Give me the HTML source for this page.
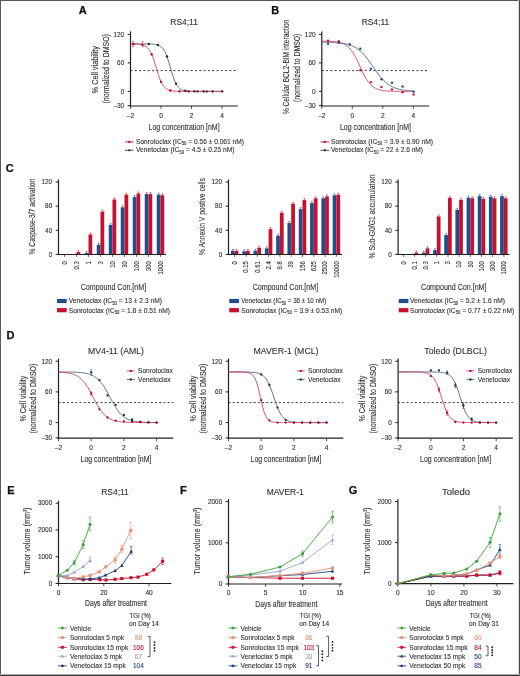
<!DOCTYPE html>
<html><head><meta charset="utf-8"><style>
html,body{margin:0;padding:0;background:#fff;}
#wrap{position:relative;width:520px;height:676px;overflow:hidden;background:#fff;}
svg{display:block;position:absolute;left:0;top:0;font-family:'Liberation Sans', sans-serif;transform:translateZ(0);will-change:transform;}
#c{filter:blur(0.3px);}
</style></head><body><div id="wrap">
<svg id="c" width="520" height="676" viewBox="0 0 520 676">
<rect width="520" height="676" fill="#fff"/>
<text x="78.80" y="14.30" font-size="11" fill="#111" stroke="#111" stroke-width="0.25" font-weight="bold">A</text>
<text x="271.20" y="14.30" font-size="11" fill="#111" stroke="#111" stroke-width="0.25" font-weight="bold">B</text>
<text x="5.80" y="172.30" font-size="11" fill="#111" stroke="#111" stroke-width="0.25" font-weight="bold">C</text>
<text x="6.40" y="339.30" font-size="11" fill="#111" stroke="#111" stroke-width="0.25" font-weight="bold">D</text>
<text x="7.30" y="493.50" font-size="11" fill="#111" stroke="#111" stroke-width="0.25" font-weight="bold">E</text>
<text x="179.90" y="493.50" font-size="11" fill="#111" stroke="#111" stroke-width="0.25" font-weight="bold">F</text>
<text x="348.80" y="493.50" font-size="11" fill="#111" stroke="#111" stroke-width="0.25" font-weight="bold">G</text>
<line x1="130.50" y1="31.40" x2="130.50" y2="106.60" stroke="#231f20" stroke-width="1.2"/>
<line x1="129.90" y1="106.00" x2="237.80" y2="106.00" stroke="#231f20" stroke-width="1.2"/>
<line x1="127.60" y1="34.40" x2="130.50" y2="34.40" stroke="#231f20" stroke-width="1.0"/>
<text x="124.20" y="36.70" font-size="6.4" fill="#333333" stroke="#333333" stroke-width="0.12" text-anchor="end">120</text>
<line x1="127.60" y1="62.90" x2="130.50" y2="62.90" stroke="#231f20" stroke-width="1.0"/>
<text x="124.20" y="65.20" font-size="6.4" fill="#333333" stroke="#333333" stroke-width="0.12" text-anchor="end">60</text>
<line x1="127.60" y1="91.40" x2="130.50" y2="91.40" stroke="#231f20" stroke-width="1.0"/>
<text x="124.20" y="93.70" font-size="6.4" fill="#333333" stroke="#333333" stroke-width="0.12" text-anchor="end">0</text>
<line x1="127.60" y1="105.65" x2="130.50" y2="105.65" stroke="#231f20" stroke-width="1.0"/>
<text x="124.20" y="107.95" font-size="6.4" fill="#333333" stroke="#333333" stroke-width="0.12" text-anchor="end">–30</text>
<line x1="130.50" y1="106.00" x2="130.50" y2="108.80" stroke="#231f20" stroke-width="0.8"/>
<text x="130.50" y="117.80" font-size="6.6" fill="#333333" stroke="#333333" stroke-width="0.12" text-anchor="middle">–2</text>
<line x1="161.00" y1="106.00" x2="161.00" y2="108.80" stroke="#231f20" stroke-width="0.8"/>
<text x="161.00" y="117.80" font-size="6.6" fill="#333333" stroke="#333333" stroke-width="0.12" text-anchor="middle">0</text>
<line x1="191.50" y1="106.00" x2="191.50" y2="108.80" stroke="#231f20" stroke-width="0.8"/>
<text x="191.50" y="117.80" font-size="6.6" fill="#333333" stroke="#333333" stroke-width="0.12" text-anchor="middle">2</text>
<line x1="222.00" y1="106.00" x2="222.00" y2="108.80" stroke="#231f20" stroke-width="0.8"/>
<text x="222.00" y="117.80" font-size="6.6" fill="#333333" stroke="#333333" stroke-width="0.12" text-anchor="middle">4</text>
<text x="184.10" y="130.00" font-size="8.6" fill="#333333" stroke="#333333" stroke-width="0.12" text-anchor="middle" textLength="71" lengthAdjust="spacingAndGlyphs">Log concentration [nM]</text>
<text x="184.10" y="25.40" font-size="8.2" fill="#333333" stroke="#333333" stroke-width="0.12" text-anchor="middle" textLength="27.5" lengthAdjust="spacingAndGlyphs">RS4;11</text>
<text x="98.20" y="69.70" font-size="8.8" fill="#333333" stroke="#333333" stroke-width="0.12" text-anchor="middle" textLength="47.4" lengthAdjust="spacingAndGlyphs" transform="rotate(-90 98.20 69.70)">% Cell viability</text>
<text x="109.30" y="68.80" font-size="8.8" fill="#333333" stroke="#333333" stroke-width="0.12" text-anchor="middle" textLength="69.5" lengthAdjust="spacingAndGlyphs" transform="rotate(-90 109.30 68.80)">(normalized to DMSO)</text>
<line x1="130.50" y1="70.60" x2="238.00" y2="70.60" stroke="#231f20" stroke-width="0.9" stroke-dasharray="2 2.3"/>
<path d="M130.50,43.90 L131.26,43.90 L132.03,43.90 L132.79,43.90 L133.55,43.90 L134.31,43.90 L135.07,43.90 L135.84,43.90 L136.60,43.90 L137.36,43.90 L138.12,43.90 L138.89,43.90 L139.65,43.91 L140.41,43.91 L141.18,43.91 L141.94,43.91 L142.70,43.91 L143.46,43.92 L144.22,43.92 L144.99,43.93 L145.75,43.93 L146.51,43.94 L147.28,43.95 L148.04,43.96 L148.80,43.98 L149.56,44.00 L150.32,44.03 L151.09,44.06 L151.85,44.10 L152.61,44.15 L153.38,44.21 L154.14,44.29 L154.90,44.38 L155.66,44.50 L156.43,44.65 L157.19,44.84 L157.95,45.07 L158.71,45.36 L159.47,45.71 L160.24,46.14 L161.00,46.68 L161.76,47.32 L162.53,48.11 L163.29,49.06 L164.05,50.18 L164.81,51.51 L165.57,53.06 L166.34,54.83 L167.10,56.83 L167.86,59.05 L168.62,61.45 L169.39,64.00 L170.15,66.64 L170.91,69.30 L171.68,71.92 L172.44,74.44 L173.20,76.80 L173.96,78.97 L174.72,80.92 L175.49,82.64 L176.25,84.13 L177.01,85.41 L177.78,86.49 L178.54,87.39 L179.30,88.14 L180.06,88.76 L180.82,89.27 L181.59,89.68 L182.35,90.02 L183.11,90.29 L183.88,90.51 L184.64,90.68 L185.40,90.83 L186.16,90.94 L186.93,91.03 L187.69,91.11 L188.45,91.16 L189.21,91.21 L189.97,91.25 L190.74,91.28 L191.50,91.30 L192.26,91.32 L193.02,91.34 L193.79,91.35 L194.55,91.36 L195.31,91.37 L196.07,91.37 L196.84,91.38 L197.60,91.38 L198.36,91.39 L199.12,91.39 L199.89,91.39 L200.65,91.39 L201.41,91.39 L202.18,91.40 L202.94,91.40 L203.70,91.40 L204.46,91.40 L205.23,91.40 L205.99,91.40 L206.75,91.40 L207.51,91.40 L208.27,91.40 L209.04,91.40 L209.80,91.40 L210.56,91.40 L211.32,91.40 L212.09,91.40 L212.85,91.40 L213.61,91.40 L214.38,91.40 L215.14,91.40 L215.90,91.40 L216.66,91.40 L217.43,91.40 L218.19,91.40 L218.95,91.40 L219.71,91.40 L220.48,91.40 L221.24,91.40 L222.00,91.40" stroke="#4a6276" stroke-width="0.9" fill="none" stroke-linejoin="round"/>
<path d="M130.50,43.93 L131.26,43.94 L132.03,43.95 L132.79,43.97 L133.55,43.98 L134.31,44.00 L135.07,44.03 L135.84,44.06 L136.60,44.09 L137.36,44.14 L138.12,44.20 L138.89,44.26 L139.65,44.35 L140.41,44.46 L141.18,44.59 L141.94,44.75 L142.70,44.95 L143.46,45.19 L144.22,45.49 L144.99,45.86 L145.75,46.30 L146.51,46.84 L147.28,47.49 L148.04,48.26 L148.80,49.19 L149.56,50.28 L150.32,51.56 L151.09,53.04 L151.85,54.72 L152.61,56.61 L153.38,58.70 L154.14,60.97 L154.90,63.37 L155.66,65.87 L156.43,68.41 L157.19,70.93 L157.95,73.38 L158.71,75.71 L159.47,77.87 L160.24,79.85 L161.00,81.61 L161.76,83.17 L162.53,84.53 L163.29,85.70 L164.05,86.69 L164.81,87.52 L165.57,88.22 L166.34,88.80 L167.10,89.28 L167.86,89.67 L168.62,89.99 L169.39,90.26 L170.15,90.47 L170.91,90.65 L171.68,90.79 L172.44,90.91 L173.20,91.00 L173.96,91.08 L174.72,91.14 L175.49,91.19 L176.25,91.23 L177.01,91.26 L177.78,91.29 L178.54,91.31 L179.30,91.33 L180.06,91.34 L180.82,91.35 L181.59,91.36 L182.35,91.37 L183.11,91.38 L183.88,91.38 L184.64,91.38 L185.40,91.39 L186.16,91.39 L186.93,91.39 L187.69,91.39 L188.45,91.39 L189.21,91.40 L189.97,91.40 L190.74,91.40 L191.50,91.40 L192.26,91.40 L193.02,91.40 L193.79,91.40 L194.55,91.40 L195.31,91.40 L196.07,91.40 L196.84,91.40 L197.60,91.40 L198.36,91.40 L199.12,91.40 L199.89,91.40 L200.65,91.40 L201.41,91.40 L202.18,91.40 L202.94,91.40 L203.70,91.40 L204.46,91.40 L205.23,91.40 L205.99,91.40 L206.75,91.40 L207.51,91.40 L208.27,91.40 L209.04,91.40 L209.80,91.40 L210.56,91.40 L211.32,91.40 L212.09,91.40 L212.85,91.40 L213.61,91.40 L214.38,91.40 L215.14,91.40 L215.90,91.40 L216.66,91.40 L217.43,91.40 L218.19,91.40 L218.95,91.40 L219.71,91.40 L220.48,91.40 L221.24,91.40 L222.00,91.40" stroke="#cf3a5e" stroke-width="0.9" fill="none" stroke-linejoin="round"/>
<circle cx="148.80" cy="43.98" r="1.2" fill="#1a2c3c"/>
<circle cx="157.80" cy="45.02" r="1.2" fill="#1a2c3c"/>
<circle cx="167.00" cy="56.56" r="1.2" fill="#1a2c3c"/>
<circle cx="176.00" cy="83.66" r="1.2" fill="#1a2c3c"/>
<circle cx="185.30" cy="90.81" r="1.2" fill="#1a2c3c"/>
<circle cx="194.30" cy="91.36" r="1.2" fill="#1a2c3c"/>
<circle cx="203.60" cy="91.40" r="1.2" fill="#1a2c3c"/>
<circle cx="212.60" cy="91.40" r="1.2" fill="#1a2c3c"/>
<circle cx="222.20" cy="91.40" r="1.2" fill="#1a2c3c"/>
<circle cx="133.40" cy="43.98" r="1.2" fill="#9a0c32"/>
<circle cx="142.40" cy="44.87" r="1.2" fill="#9a0c32"/>
<circle cx="151.70" cy="54.37" r="1.2" fill="#9a0c32"/>
<circle cx="161.10" cy="81.83" r="1.2" fill="#9a0c32"/>
<circle cx="170.30" cy="90.51" r="1.2" fill="#9a0c32"/>
<circle cx="179.50" cy="91.33" r="1.2" fill="#9a0c32"/>
<circle cx="188.60" cy="91.39" r="1.2" fill="#9a0c32"/>
<circle cx="197.60" cy="91.40" r="1.2" fill="#9a0c32"/>
<circle cx="206.80" cy="91.40" r="1.2" fill="#9a0c32"/>
<line x1="133.00" y1="41.40" x2="133.00" y2="46.80" stroke="#cf3a5e" stroke-width="0.7"/>
<line x1="132.00" y1="41.40" x2="134.00" y2="41.40" stroke="#cf3a5e" stroke-width="0.6"/>
<line x1="132.00" y1="46.80" x2="134.00" y2="46.80" stroke="#cf3a5e" stroke-width="0.6"/>
<line x1="142.60" y1="41.40" x2="142.60" y2="46.80" stroke="#cf3a5e" stroke-width="0.7"/>
<line x1="141.60" y1="41.40" x2="143.60" y2="41.40" stroke="#cf3a5e" stroke-width="0.6"/>
<line x1="141.60" y1="46.80" x2="143.60" y2="46.80" stroke="#cf3a5e" stroke-width="0.6"/>
<line x1="125.00" y1="141.90" x2="133.50" y2="141.90" stroke="#cf3a5e" stroke-width="1.1"/>
<circle cx="129.25" cy="141.90" r="1.125" fill="#9a0c32"/>
<line x1="125.00" y1="150.30" x2="133.50" y2="150.30" stroke="#4a6276" stroke-width="1.1"/>
<circle cx="129.25" cy="150.30" r="1.125" fill="#1a2c3c"/>
<text x="136.00" y="143.90" font-size="7.2" fill="#333333" stroke="#333333" stroke-width="0.12" textLength="108" lengthAdjust="spacingAndGlyphs">Sonrotoclax (IC<tspan font-size="4.6" dy="1.4">50</tspan><tspan dy="-1.4"> = 0.56 ± 0.061 nM)</tspan></text>
<text x="136.00" y="152.20" font-size="7.2" fill="#333333" stroke="#333333" stroke-width="0.12" textLength="98.6" lengthAdjust="spacingAndGlyphs">Venetoclax (IC<tspan font-size="4.6" dy="1.4">50</tspan><tspan dy="-1.4"> = 4.5 ± 0.25 nM)</tspan></text>
<line x1="321.80" y1="31.40" x2="321.80" y2="106.60" stroke="#231f20" stroke-width="1.2"/>
<line x1="321.20" y1="106.00" x2="429.10" y2="106.00" stroke="#231f20" stroke-width="1.2"/>
<line x1="318.90" y1="34.40" x2="321.80" y2="34.40" stroke="#231f20" stroke-width="1.0"/>
<text x="315.50" y="36.70" font-size="6.4" fill="#333333" stroke="#333333" stroke-width="0.12" text-anchor="end">120</text>
<line x1="318.90" y1="62.90" x2="321.80" y2="62.90" stroke="#231f20" stroke-width="1.0"/>
<text x="315.50" y="65.20" font-size="6.4" fill="#333333" stroke="#333333" stroke-width="0.12" text-anchor="end">60</text>
<line x1="318.90" y1="91.40" x2="321.80" y2="91.40" stroke="#231f20" stroke-width="1.0"/>
<text x="315.50" y="93.70" font-size="6.4" fill="#333333" stroke="#333333" stroke-width="0.12" text-anchor="end">0</text>
<line x1="318.90" y1="105.65" x2="321.80" y2="105.65" stroke="#231f20" stroke-width="1.0"/>
<text x="315.50" y="107.95" font-size="6.4" fill="#333333" stroke="#333333" stroke-width="0.12" text-anchor="end">–30</text>
<line x1="321.80" y1="106.00" x2="321.80" y2="108.80" stroke="#231f20" stroke-width="0.8"/>
<text x="321.80" y="117.80" font-size="6.6" fill="#333333" stroke="#333333" stroke-width="0.12" text-anchor="middle">–2</text>
<line x1="352.30" y1="106.00" x2="352.30" y2="108.80" stroke="#231f20" stroke-width="0.8"/>
<text x="352.30" y="117.80" font-size="6.6" fill="#333333" stroke="#333333" stroke-width="0.12" text-anchor="middle">0</text>
<line x1="382.80" y1="106.00" x2="382.80" y2="108.80" stroke="#231f20" stroke-width="0.8"/>
<text x="382.80" y="117.80" font-size="6.6" fill="#333333" stroke="#333333" stroke-width="0.12" text-anchor="middle">2</text>
<line x1="413.30" y1="106.00" x2="413.30" y2="108.80" stroke="#231f20" stroke-width="0.8"/>
<text x="413.30" y="117.80" font-size="6.6" fill="#333333" stroke="#333333" stroke-width="0.12" text-anchor="middle">4</text>
<text x="375.40" y="130.00" font-size="8.6" fill="#333333" stroke="#333333" stroke-width="0.12" text-anchor="middle" textLength="71" lengthAdjust="spacingAndGlyphs">Log concentration [nM]</text>
<text x="375.40" y="25.40" font-size="8.2" fill="#333333" stroke="#333333" stroke-width="0.12" text-anchor="middle" textLength="27.5" lengthAdjust="spacingAndGlyphs">RS4;11</text>
<text x="288.60" y="66.90" font-size="8.8" fill="#333333" stroke="#333333" stroke-width="0.12" text-anchor="middle" textLength="94.3" lengthAdjust="spacingAndGlyphs" transform="rotate(-90 288.60 66.90)">% Cellular BCL2-BIM interaction</text>
<text x="300.30" y="67.80" font-size="8.8" fill="#333333" stroke="#333333" stroke-width="0.12" text-anchor="middle" textLength="68.4" lengthAdjust="spacingAndGlyphs" transform="rotate(-90 300.30 67.80)">(normalized to DMSO)</text>
<line x1="321.80" y1="70.60" x2="429.30" y2="70.60" stroke="#231f20" stroke-width="0.9" stroke-dasharray="2 2.3"/>
<path d="M321.80,42.12 L322.56,42.13 L323.32,42.14 L324.09,42.15 L324.85,42.17 L325.61,42.18 L326.38,42.20 L327.14,42.22 L327.90,42.24 L328.66,42.26 L329.43,42.29 L330.19,42.32 L330.95,42.35 L331.71,42.38 L332.48,42.41 L333.24,42.45 L334.00,42.49 L334.76,42.54 L335.53,42.59 L336.29,42.64 L337.05,42.70 L337.81,42.77 L338.57,42.84 L339.34,42.92 L340.10,43.00 L340.86,43.09 L341.62,43.19 L342.39,43.30 L343.15,43.42 L343.91,43.55 L344.68,43.69 L345.44,43.84 L346.20,44.01 L346.96,44.19 L347.73,44.38 L348.49,44.60 L349.25,44.83 L350.01,45.08 L350.78,45.35 L351.54,45.64 L352.30,45.95 L353.06,46.29 L353.82,46.66 L354.59,47.05 L355.35,47.47 L356.11,47.92 L356.88,48.41 L357.64,48.92 L358.40,49.48 L359.16,50.06 L359.93,50.69 L360.69,51.35 L361.45,52.05 L362.21,52.79 L362.98,53.56 L363.74,54.38 L364.50,55.23 L365.26,56.12 L366.03,57.04 L366.79,58.00 L367.55,58.98 L368.31,60.00 L369.07,61.04 L369.84,62.10 L370.60,63.18 L371.36,64.27 L372.12,65.37 L372.89,66.48 L373.65,67.59 L374.41,68.69 L375.18,69.79 L375.94,70.87 L376.70,71.94 L377.46,72.99 L378.23,74.02 L378.99,75.01 L379.75,75.98 L380.51,76.92 L381.28,77.82 L382.04,78.69 L382.80,79.51 L383.56,80.31 L384.32,81.06 L385.09,81.77 L385.85,82.45 L386.61,83.09 L387.38,83.69 L388.14,84.26 L388.90,84.79 L389.66,85.29 L390.43,85.75 L391.19,86.19 L391.95,86.59 L392.71,86.97 L393.48,87.32 L394.24,87.64 L395.00,87.94 L395.76,88.22 L396.53,88.48 L397.29,88.71 L398.05,88.93 L398.81,89.13 L399.57,89.32 L400.34,89.49 L401.10,89.65 L401.86,89.80 L402.62,89.93 L403.39,90.05 L404.15,90.17 L404.91,90.27 L405.68,90.36 L406.44,90.45 L407.20,90.53 L407.96,90.60 L408.73,90.67 L409.49,90.73 L410.25,90.79 L411.01,90.84 L411.78,90.89 L412.54,90.93 L413.30,90.97" stroke="#4a6276" stroke-width="0.9" fill="none" stroke-linejoin="round"/>
<path d="M321.80,41.12 L322.56,41.13 L323.32,41.14 L324.09,41.15 L324.85,41.16 L325.61,41.18 L326.38,41.20 L327.14,41.22 L327.90,41.24 L328.66,41.27 L329.43,41.30 L330.19,41.34 L330.95,41.38 L331.71,41.42 L332.48,41.47 L333.24,41.53 L334.00,41.60 L334.76,41.68 L335.53,41.77 L336.29,41.87 L337.05,41.98 L337.81,42.11 L338.57,42.26 L339.34,42.42 L340.10,42.61 L340.86,42.82 L341.62,43.06 L342.39,43.34 L343.15,43.64 L343.91,43.99 L344.68,44.38 L345.44,44.81 L346.20,45.30 L346.96,45.85 L347.73,46.45 L348.49,47.13 L349.25,47.87 L350.01,48.69 L350.78,49.59 L351.54,50.57 L352.30,51.63 L353.06,52.78 L353.82,54.01 L354.59,55.33 L355.35,56.72 L356.11,58.18 L356.88,59.71 L357.64,61.29 L358.40,62.91 L359.16,64.56 L359.93,66.23 L360.69,67.89 L361.45,69.54 L362.21,71.16 L362.98,72.74 L363.74,74.27 L364.50,75.73 L365.26,77.12 L366.03,78.44 L366.79,79.67 L367.55,80.82 L368.31,81.88 L369.07,82.86 L369.84,83.76 L370.60,84.58 L371.36,85.32 L372.12,86.00 L372.89,86.60 L373.65,87.15 L374.41,87.64 L375.18,88.07 L375.94,88.46 L376.70,88.81 L377.46,89.11 L378.23,89.39 L378.99,89.63 L379.75,89.84 L380.51,90.03 L381.28,90.19 L382.04,90.34 L382.80,90.47 L383.56,90.58 L384.32,90.68 L385.09,90.77 L385.85,90.85 L386.61,90.92 L387.38,90.98 L388.14,91.03 L388.90,91.07 L389.66,91.11 L390.43,91.15 L391.19,91.18 L391.95,91.21 L392.71,91.23 L393.48,91.25 L394.24,91.27 L395.00,91.29 L395.76,91.30 L396.53,91.31 L397.29,91.32 L398.05,91.33 L398.81,91.34 L399.57,91.35 L400.34,91.35 L401.10,91.36 L401.86,91.37 L402.62,91.37 L403.39,91.37 L404.15,91.38 L404.91,91.38 L405.68,91.38 L406.44,91.38 L407.20,91.39 L407.96,91.39 L408.73,91.39 L409.49,91.39 L410.25,91.39 L411.01,91.39 L411.78,91.39 L412.54,91.39 L413.30,91.40" stroke="#cf3a5e" stroke-width="0.9" fill="none" stroke-linejoin="round"/>
<circle cx="328.00" cy="43.70" r="1.2" fill="#22508a"/>
<circle cx="338.80" cy="42.70" r="1.2" fill="#22508a"/>
<circle cx="349.70" cy="44.20" r="1.2" fill="#22508a"/>
<circle cx="360.30" cy="48.80" r="1.2" fill="#22508a"/>
<circle cx="370.90" cy="68.70" r="1.2" fill="#22508a"/>
<circle cx="381.50" cy="79.20" r="1.2" fill="#22508a"/>
<circle cx="392.00" cy="82.70" r="1.2" fill="#22508a"/>
<circle cx="402.60" cy="86.50" r="1.2" fill="#22508a"/>
<circle cx="413.60" cy="91.70" r="1.2" fill="#22508a"/>
<circle cx="328.00" cy="40.80" r="1.2" fill="#c01a40"/>
<circle cx="338.80" cy="41.20" r="1.2" fill="#c01a40"/>
<circle cx="360.30" cy="70.20" r="1.2" fill="#c01a40"/>
<circle cx="370.90" cy="82.10" r="1.2" fill="#c01a40"/>
<circle cx="381.50" cy="86.90" r="1.2" fill="#c01a40"/>
<circle cx="392.00" cy="89.40" r="1.2" fill="#c01a40"/>
<circle cx="402.60" cy="92.30" r="1.2" fill="#c01a40"/>
<circle cx="413.60" cy="94.60" r="1.2" fill="#c01a40"/>
<line x1="320.50" y1="141.90" x2="329.00" y2="141.90" stroke="#cf3a5e" stroke-width="1.1"/>
<circle cx="324.75" cy="141.90" r="1.125" fill="#9a0c32"/>
<line x1="320.50" y1="150.30" x2="329.00" y2="150.30" stroke="#4a6276" stroke-width="1.1"/>
<circle cx="324.75" cy="150.30" r="1.125" fill="#1a2c3c"/>
<text x="331.00" y="143.90" font-size="7.2" fill="#333333" stroke="#333333" stroke-width="0.12" textLength="102" lengthAdjust="spacingAndGlyphs">Sonrotoclax (IC<tspan font-size="4.6" dy="1.4">50</tspan><tspan dy="-1.4"> = 3.9 ± 0.90 nM)</tspan></text>
<text x="331.00" y="152.20" font-size="7.2" fill="#333333" stroke="#333333" stroke-width="0.12" textLength="92" lengthAdjust="spacingAndGlyphs">Venetoclax (IC<tspan font-size="4.6" dy="1.4">50</tspan><tspan dy="-1.4"> = 22 ± 2.6 nM)</tspan></text>
<rect x="76.50" y="251.99" width="3.75" height="2.41" fill="#c8102e"/>
<line x1="78.38" y1="251.99" x2="78.38" y2="250.49" stroke="#c8102e" stroke-width="0.6"/>
<line x1="77.47" y1="250.49" x2="79.28" y2="250.49" stroke="#c8102e" stroke-width="0.6"/>
<rect x="84.75" y="252.89" width="3.75" height="1.51" fill="#1f4e8c"/>
<line x1="86.62" y1="252.89" x2="86.62" y2="251.39" stroke="#1f4e8c" stroke-width="0.6"/>
<line x1="85.72" y1="251.39" x2="87.53" y2="251.39" stroke="#1f4e8c" stroke-width="0.6"/>
<rect x="88.50" y="234.49" width="3.75" height="19.91" fill="#c8102e"/>
<line x1="90.38" y1="234.49" x2="90.38" y2="232.99" stroke="#c8102e" stroke-width="0.6"/>
<line x1="89.47" y1="232.99" x2="91.28" y2="232.99" stroke="#c8102e" stroke-width="0.6"/>
<rect x="96.75" y="244.75" width="3.75" height="9.65" fill="#1f4e8c"/>
<line x1="98.62" y1="244.75" x2="98.62" y2="243.25" stroke="#1f4e8c" stroke-width="0.6"/>
<line x1="97.72" y1="243.25" x2="99.53" y2="243.25" stroke="#1f4e8c" stroke-width="0.6"/>
<rect x="100.50" y="211.57" width="3.75" height="42.83" fill="#c8102e"/>
<line x1="102.38" y1="211.57" x2="102.38" y2="210.07" stroke="#c8102e" stroke-width="0.6"/>
<line x1="101.47" y1="210.07" x2="103.28" y2="210.07" stroke="#c8102e" stroke-width="0.6"/>
<rect x="108.75" y="224.84" width="3.75" height="29.56" fill="#1f4e8c"/>
<line x1="110.62" y1="224.84" x2="110.62" y2="223.34" stroke="#1f4e8c" stroke-width="0.6"/>
<line x1="109.72" y1="223.34" x2="111.53" y2="223.34" stroke="#1f4e8c" stroke-width="0.6"/>
<rect x="112.50" y="199.50" width="3.75" height="54.90" fill="#c8102e"/>
<line x1="114.38" y1="199.50" x2="114.38" y2="198.00" stroke="#c8102e" stroke-width="0.6"/>
<line x1="113.47" y1="198.00" x2="115.28" y2="198.00" stroke="#c8102e" stroke-width="0.6"/>
<rect x="120.75" y="207.34" width="3.75" height="47.06" fill="#1f4e8c"/>
<line x1="122.62" y1="207.34" x2="122.62" y2="205.84" stroke="#1f4e8c" stroke-width="0.6"/>
<line x1="121.72" y1="205.84" x2="123.53" y2="205.84" stroke="#1f4e8c" stroke-width="0.6"/>
<rect x="124.50" y="194.67" width="3.75" height="59.73" fill="#c8102e"/>
<line x1="126.38" y1="194.67" x2="126.38" y2="193.17" stroke="#c8102e" stroke-width="0.6"/>
<line x1="125.47" y1="193.17" x2="127.28" y2="193.17" stroke="#c8102e" stroke-width="0.6"/>
<rect x="132.75" y="197.09" width="3.75" height="57.31" fill="#1f4e8c"/>
<line x1="134.62" y1="197.09" x2="134.62" y2="195.59" stroke="#1f4e8c" stroke-width="0.6"/>
<line x1="133.72" y1="195.59" x2="135.53" y2="195.59" stroke="#1f4e8c" stroke-width="0.6"/>
<rect x="136.50" y="193.47" width="3.75" height="60.93" fill="#c8102e"/>
<line x1="138.38" y1="193.47" x2="138.38" y2="191.97" stroke="#c8102e" stroke-width="0.6"/>
<line x1="137.47" y1="191.97" x2="139.28" y2="191.97" stroke="#c8102e" stroke-width="0.6"/>
<rect x="144.75" y="194.07" width="3.75" height="60.33" fill="#1f4e8c"/>
<line x1="146.62" y1="194.07" x2="146.62" y2="192.57" stroke="#1f4e8c" stroke-width="0.6"/>
<line x1="145.72" y1="192.57" x2="147.53" y2="192.57" stroke="#1f4e8c" stroke-width="0.6"/>
<rect x="148.50" y="194.07" width="3.75" height="60.33" fill="#c8102e"/>
<line x1="150.38" y1="194.07" x2="150.38" y2="192.57" stroke="#c8102e" stroke-width="0.6"/>
<line x1="149.47" y1="192.57" x2="151.28" y2="192.57" stroke="#c8102e" stroke-width="0.6"/>
<rect x="156.75" y="194.67" width="3.75" height="59.73" fill="#1f4e8c"/>
<line x1="158.62" y1="194.67" x2="158.62" y2="193.17" stroke="#1f4e8c" stroke-width="0.6"/>
<line x1="157.72" y1="193.17" x2="159.53" y2="193.17" stroke="#1f4e8c" stroke-width="0.6"/>
<rect x="160.50" y="195.28" width="3.75" height="59.12" fill="#c8102e"/>
<line x1="162.38" y1="195.28" x2="162.38" y2="193.78" stroke="#c8102e" stroke-width="0.6"/>
<line x1="161.47" y1="193.78" x2="163.28" y2="193.78" stroke="#c8102e" stroke-width="0.6"/>
<line x1="58.50" y1="179.40" x2="58.50" y2="255.10" stroke="#231f20" stroke-width="1.2"/>
<line x1="57.90" y1="254.50" x2="166.00" y2="254.50" stroke="#231f20" stroke-width="1.2"/>
<line x1="55.60" y1="182.00" x2="58.50" y2="182.00" stroke="#231f20" stroke-width="1.0"/>
<text x="52.20" y="184.30" font-size="6.4" fill="#333333" stroke="#333333" stroke-width="0.12" text-anchor="end">120</text>
<line x1="55.60" y1="206.14" x2="58.50" y2="206.14" stroke="#231f20" stroke-width="1.0"/>
<text x="52.20" y="208.44" font-size="6.4" fill="#333333" stroke="#333333" stroke-width="0.12" text-anchor="end">80</text>
<line x1="55.60" y1="230.27" x2="58.50" y2="230.27" stroke="#231f20" stroke-width="1.0"/>
<text x="52.20" y="232.57" font-size="6.4" fill="#333333" stroke="#333333" stroke-width="0.12" text-anchor="end">40</text>
<line x1="55.60" y1="254.40" x2="58.50" y2="254.40" stroke="#231f20" stroke-width="1.0"/>
<text x="52.20" y="256.70" font-size="6.4" fill="#333333" stroke="#333333" stroke-width="0.12" text-anchor="end">0</text>
<line x1="64.50" y1="254.40" x2="64.50" y2="256.80" stroke="#231f20" stroke-width="0.7"/>
<text x="66.80" y="261.20" font-size="7.0" fill="#333333" stroke="#333333" stroke-width="0.12" text-anchor="end" textLength="3.33" lengthAdjust="spacingAndGlyphs" transform="rotate(-90 66.80 261.20)">0</text>
<line x1="76.50" y1="254.40" x2="76.50" y2="256.80" stroke="#231f20" stroke-width="0.7"/>
<text x="78.80" y="261.20" font-size="7.0" fill="#333333" stroke="#333333" stroke-width="0.12" text-anchor="end" textLength="8.32" lengthAdjust="spacingAndGlyphs" transform="rotate(-90 78.80 261.20)">0.3</text>
<line x1="88.50" y1="254.40" x2="88.50" y2="256.80" stroke="#231f20" stroke-width="0.7"/>
<text x="90.80" y="261.20" font-size="7.0" fill="#333333" stroke="#333333" stroke-width="0.12" text-anchor="end" textLength="3.33" lengthAdjust="spacingAndGlyphs" transform="rotate(-90 90.80 261.20)">1</text>
<line x1="100.50" y1="254.40" x2="100.50" y2="256.80" stroke="#231f20" stroke-width="0.7"/>
<text x="102.80" y="261.20" font-size="7.0" fill="#333333" stroke="#333333" stroke-width="0.12" text-anchor="end" textLength="3.33" lengthAdjust="spacingAndGlyphs" transform="rotate(-90 102.80 261.20)">3</text>
<line x1="112.50" y1="254.40" x2="112.50" y2="256.80" stroke="#231f20" stroke-width="0.7"/>
<text x="114.80" y="261.20" font-size="7.0" fill="#333333" stroke="#333333" stroke-width="0.12" text-anchor="end" textLength="6.66" lengthAdjust="spacingAndGlyphs" transform="rotate(-90 114.80 261.20)">10</text>
<line x1="124.50" y1="254.40" x2="124.50" y2="256.80" stroke="#231f20" stroke-width="0.7"/>
<text x="126.80" y="261.20" font-size="7.0" fill="#333333" stroke="#333333" stroke-width="0.12" text-anchor="end" textLength="6.66" lengthAdjust="spacingAndGlyphs" transform="rotate(-90 126.80 261.20)">30</text>
<line x1="136.50" y1="254.40" x2="136.50" y2="256.80" stroke="#231f20" stroke-width="0.7"/>
<text x="138.80" y="261.20" font-size="7.0" fill="#333333" stroke="#333333" stroke-width="0.12" text-anchor="end" textLength="9.98" lengthAdjust="spacingAndGlyphs" transform="rotate(-90 138.80 261.20)">100</text>
<line x1="148.50" y1="254.40" x2="148.50" y2="256.80" stroke="#231f20" stroke-width="0.7"/>
<text x="150.80" y="261.20" font-size="7.0" fill="#333333" stroke="#333333" stroke-width="0.12" text-anchor="end" textLength="9.98" lengthAdjust="spacingAndGlyphs" transform="rotate(-90 150.80 261.20)">300</text>
<line x1="160.50" y1="254.40" x2="160.50" y2="256.80" stroke="#231f20" stroke-width="0.7"/>
<text x="162.80" y="261.20" font-size="7.0" fill="#333333" stroke="#333333" stroke-width="0.12" text-anchor="end" textLength="13.31" lengthAdjust="spacingAndGlyphs" transform="rotate(-90 162.80 261.20)">1000</text>
<text x="34.80" y="216.50" font-size="8.8" fill="#333333" stroke="#333333" stroke-width="0.12" text-anchor="middle" textLength="76" lengthAdjust="spacingAndGlyphs" transform="rotate(-90 34.80 216.50)">% Caspase-3/7 activation</text>
<text x="113.40" y="289.80" font-size="8.8" fill="#333333" stroke="#333333" stroke-width="0.12" text-anchor="middle" textLength="65.5" lengthAdjust="spacingAndGlyphs">Compound Con.[nM]</text>
<rect x="57.00" y="298.9" width="9.7" height="4.2" fill="#1f4e8c"/>
<rect x="57.00" y="308.1" width="9.7" height="4.2" fill="#c8102e"/>
<text x="68.75" y="303.30" font-size="7.2" fill="#333333" stroke="#333333" stroke-width="0.12" textLength="93.25" lengthAdjust="spacingAndGlyphs">Venetoclax (IC<tspan font-size="4.6" dy="1.4">50</tspan><tspan dy="-1.4"> = 13 ± 2.3 nM)</tspan></text>
<text x="68.75" y="312.50" font-size="7.2" fill="#333333" stroke="#333333" stroke-width="0.12" textLength="101.25" lengthAdjust="spacingAndGlyphs">Sonrotoclax (IC<tspan font-size="4.6" dy="1.4">50</tspan><tspan dy="-1.4"> = 1.8 ± 0.51 nM)</tspan></text>
<rect x="230.95" y="250.78" width="3.75" height="3.62" fill="#1f4e8c"/>
<line x1="232.82" y1="250.78" x2="232.82" y2="249.28" stroke="#1f4e8c" stroke-width="0.6"/>
<line x1="231.92" y1="249.28" x2="233.72" y2="249.28" stroke="#1f4e8c" stroke-width="0.6"/>
<rect x="234.70" y="250.78" width="3.75" height="3.62" fill="#c8102e"/>
<line x1="236.57" y1="250.78" x2="236.57" y2="249.28" stroke="#c8102e" stroke-width="0.6"/>
<line x1="235.67" y1="249.28" x2="237.47" y2="249.28" stroke="#c8102e" stroke-width="0.6"/>
<rect x="242.25" y="251.38" width="3.75" height="3.02" fill="#1f4e8c"/>
<line x1="244.12" y1="251.38" x2="244.12" y2="249.88" stroke="#1f4e8c" stroke-width="0.6"/>
<line x1="243.22" y1="249.88" x2="245.03" y2="249.88" stroke="#1f4e8c" stroke-width="0.6"/>
<rect x="246.00" y="250.78" width="3.75" height="3.62" fill="#c8102e"/>
<line x1="247.88" y1="250.78" x2="247.88" y2="249.28" stroke="#c8102e" stroke-width="0.6"/>
<line x1="246.97" y1="249.28" x2="248.78" y2="249.28" stroke="#c8102e" stroke-width="0.6"/>
<rect x="253.55" y="250.78" width="3.75" height="3.62" fill="#1f4e8c"/>
<line x1="255.43" y1="250.78" x2="255.43" y2="249.28" stroke="#1f4e8c" stroke-width="0.6"/>
<line x1="254.53" y1="249.28" x2="256.32" y2="249.28" stroke="#1f4e8c" stroke-width="0.6"/>
<rect x="257.30" y="247.76" width="3.75" height="6.64" fill="#c8102e"/>
<line x1="259.18" y1="247.76" x2="259.18" y2="246.26" stroke="#c8102e" stroke-width="0.6"/>
<line x1="258.28" y1="246.26" x2="260.07" y2="246.26" stroke="#c8102e" stroke-width="0.6"/>
<rect x="264.85" y="248.37" width="3.75" height="6.03" fill="#1f4e8c"/>
<line x1="266.73" y1="248.37" x2="266.73" y2="246.87" stroke="#1f4e8c" stroke-width="0.6"/>
<line x1="265.83" y1="246.87" x2="267.62" y2="246.87" stroke="#1f4e8c" stroke-width="0.6"/>
<rect x="268.60" y="229.06" width="3.75" height="25.34" fill="#c8102e"/>
<line x1="270.48" y1="229.06" x2="270.48" y2="227.56" stroke="#c8102e" stroke-width="0.6"/>
<line x1="269.58" y1="227.56" x2="271.38" y2="227.56" stroke="#c8102e" stroke-width="0.6"/>
<rect x="276.15" y="235.70" width="3.75" height="18.70" fill="#1f4e8c"/>
<line x1="278.02" y1="235.70" x2="278.02" y2="234.20" stroke="#1f4e8c" stroke-width="0.6"/>
<line x1="277.12" y1="234.20" x2="278.92" y2="234.20" stroke="#1f4e8c" stroke-width="0.6"/>
<rect x="279.90" y="212.77" width="3.75" height="41.63" fill="#c8102e"/>
<line x1="281.77" y1="212.77" x2="281.77" y2="211.27" stroke="#c8102e" stroke-width="0.6"/>
<line x1="280.88" y1="211.27" x2="282.67" y2="211.27" stroke="#c8102e" stroke-width="0.6"/>
<rect x="287.45" y="223.03" width="3.75" height="31.37" fill="#1f4e8c"/>
<line x1="289.32" y1="223.03" x2="289.32" y2="221.53" stroke="#1f4e8c" stroke-width="0.6"/>
<line x1="288.43" y1="221.53" x2="290.22" y2="221.53" stroke="#1f4e8c" stroke-width="0.6"/>
<rect x="291.20" y="203.72" width="3.75" height="50.68" fill="#c8102e"/>
<line x1="293.07" y1="203.72" x2="293.07" y2="202.22" stroke="#c8102e" stroke-width="0.6"/>
<line x1="292.18" y1="202.22" x2="293.97" y2="202.22" stroke="#c8102e" stroke-width="0.6"/>
<rect x="298.75" y="209.15" width="3.75" height="45.25" fill="#1f4e8c"/>
<line x1="300.62" y1="209.15" x2="300.62" y2="207.65" stroke="#1f4e8c" stroke-width="0.6"/>
<line x1="299.73" y1="207.65" x2="301.52" y2="207.65" stroke="#1f4e8c" stroke-width="0.6"/>
<rect x="302.50" y="200.10" width="3.75" height="54.30" fill="#c8102e"/>
<line x1="304.38" y1="200.10" x2="304.38" y2="198.60" stroke="#c8102e" stroke-width="0.6"/>
<line x1="303.48" y1="198.60" x2="305.27" y2="198.60" stroke="#c8102e" stroke-width="0.6"/>
<rect x="310.05" y="203.12" width="3.75" height="51.28" fill="#1f4e8c"/>
<line x1="311.93" y1="203.12" x2="311.93" y2="201.62" stroke="#1f4e8c" stroke-width="0.6"/>
<line x1="311.03" y1="201.62" x2="312.82" y2="201.62" stroke="#1f4e8c" stroke-width="0.6"/>
<rect x="313.80" y="198.29" width="3.75" height="56.11" fill="#c8102e"/>
<line x1="315.68" y1="198.29" x2="315.68" y2="196.79" stroke="#c8102e" stroke-width="0.6"/>
<line x1="314.78" y1="196.79" x2="316.57" y2="196.79" stroke="#c8102e" stroke-width="0.6"/>
<rect x="321.35" y="198.29" width="3.75" height="56.11" fill="#1f4e8c"/>
<line x1="323.23" y1="198.29" x2="323.23" y2="196.79" stroke="#1f4e8c" stroke-width="0.6"/>
<line x1="322.33" y1="196.79" x2="324.12" y2="196.79" stroke="#1f4e8c" stroke-width="0.6"/>
<rect x="325.10" y="196.48" width="3.75" height="57.92" fill="#c8102e"/>
<line x1="326.98" y1="196.48" x2="326.98" y2="194.98" stroke="#c8102e" stroke-width="0.6"/>
<line x1="326.08" y1="194.98" x2="327.88" y2="194.98" stroke="#c8102e" stroke-width="0.6"/>
<rect x="332.65" y="195.28" width="3.75" height="59.12" fill="#1f4e8c"/>
<line x1="334.52" y1="195.28" x2="334.52" y2="193.78" stroke="#1f4e8c" stroke-width="0.6"/>
<line x1="333.62" y1="193.78" x2="335.42" y2="193.78" stroke="#1f4e8c" stroke-width="0.6"/>
<rect x="336.40" y="194.67" width="3.75" height="59.73" fill="#c8102e"/>
<line x1="338.27" y1="194.67" x2="338.27" y2="193.17" stroke="#c8102e" stroke-width="0.6"/>
<line x1="337.38" y1="193.17" x2="339.17" y2="193.17" stroke="#c8102e" stroke-width="0.6"/>
<line x1="228.50" y1="179.40" x2="228.50" y2="255.10" stroke="#231f20" stroke-width="1.2"/>
<line x1="227.90" y1="254.50" x2="342.00" y2="254.50" stroke="#231f20" stroke-width="1.2"/>
<line x1="225.60" y1="182.00" x2="228.50" y2="182.00" stroke="#231f20" stroke-width="1.0"/>
<text x="222.20" y="184.30" font-size="6.4" fill="#333333" stroke="#333333" stroke-width="0.12" text-anchor="end">120</text>
<line x1="225.60" y1="206.14" x2="228.50" y2="206.14" stroke="#231f20" stroke-width="1.0"/>
<text x="222.20" y="208.44" font-size="6.4" fill="#333333" stroke="#333333" stroke-width="0.12" text-anchor="end">80</text>
<line x1="225.60" y1="230.27" x2="228.50" y2="230.27" stroke="#231f20" stroke-width="1.0"/>
<text x="222.20" y="232.57" font-size="6.4" fill="#333333" stroke="#333333" stroke-width="0.12" text-anchor="end">40</text>
<line x1="225.60" y1="254.40" x2="228.50" y2="254.40" stroke="#231f20" stroke-width="1.0"/>
<text x="222.20" y="256.70" font-size="6.4" fill="#333333" stroke="#333333" stroke-width="0.12" text-anchor="end">0</text>
<line x1="234.70" y1="254.40" x2="234.70" y2="256.80" stroke="#231f20" stroke-width="0.7"/>
<text x="237.00" y="261.20" font-size="7.0" fill="#333333" stroke="#333333" stroke-width="0.12" text-anchor="end" textLength="3.33" lengthAdjust="spacingAndGlyphs" transform="rotate(-90 237.00 261.20)">0</text>
<line x1="246.00" y1="254.40" x2="246.00" y2="256.80" stroke="#231f20" stroke-width="0.7"/>
<text x="248.30" y="261.20" font-size="7.0" fill="#333333" stroke="#333333" stroke-width="0.12" text-anchor="end" textLength="11.65" lengthAdjust="spacingAndGlyphs" transform="rotate(-90 248.30 261.20)">0.15</text>
<line x1="257.30" y1="254.40" x2="257.30" y2="256.80" stroke="#231f20" stroke-width="0.7"/>
<text x="259.60" y="261.20" font-size="7.0" fill="#333333" stroke="#333333" stroke-width="0.12" text-anchor="end" textLength="11.65" lengthAdjust="spacingAndGlyphs" transform="rotate(-90 259.60 261.20)">0.61</text>
<line x1="268.60" y1="254.40" x2="268.60" y2="256.80" stroke="#231f20" stroke-width="0.7"/>
<text x="270.90" y="261.20" font-size="7.0" fill="#333333" stroke="#333333" stroke-width="0.12" text-anchor="end" textLength="8.32" lengthAdjust="spacingAndGlyphs" transform="rotate(-90 270.90 261.20)">2.4</text>
<line x1="279.90" y1="254.40" x2="279.90" y2="256.80" stroke="#231f20" stroke-width="0.7"/>
<text x="282.20" y="261.20" font-size="7.0" fill="#333333" stroke="#333333" stroke-width="0.12" text-anchor="end" textLength="8.32" lengthAdjust="spacingAndGlyphs" transform="rotate(-90 282.20 261.20)">9.8</text>
<line x1="291.20" y1="254.40" x2="291.20" y2="256.80" stroke="#231f20" stroke-width="0.7"/>
<text x="293.50" y="261.20" font-size="7.0" fill="#333333" stroke="#333333" stroke-width="0.12" text-anchor="end" textLength="6.66" lengthAdjust="spacingAndGlyphs" transform="rotate(-90 293.50 261.20)">39</text>
<line x1="302.50" y1="254.40" x2="302.50" y2="256.80" stroke="#231f20" stroke-width="0.7"/>
<text x="304.80" y="261.20" font-size="7.0" fill="#333333" stroke="#333333" stroke-width="0.12" text-anchor="end" textLength="9.98" lengthAdjust="spacingAndGlyphs" transform="rotate(-90 304.80 261.20)">156</text>
<line x1="313.80" y1="254.40" x2="313.80" y2="256.80" stroke="#231f20" stroke-width="0.7"/>
<text x="316.10" y="261.20" font-size="7.0" fill="#333333" stroke="#333333" stroke-width="0.12" text-anchor="end" textLength="9.98" lengthAdjust="spacingAndGlyphs" transform="rotate(-90 316.10 261.20)">625</text>
<line x1="325.10" y1="254.40" x2="325.10" y2="256.80" stroke="#231f20" stroke-width="0.7"/>
<text x="327.40" y="261.20" font-size="7.0" fill="#333333" stroke="#333333" stroke-width="0.12" text-anchor="end" textLength="13.31" lengthAdjust="spacingAndGlyphs" transform="rotate(-90 327.40 261.20)">2500</text>
<line x1="336.40" y1="254.40" x2="336.40" y2="256.80" stroke="#231f20" stroke-width="0.7"/>
<text x="338.70" y="261.20" font-size="7.0" fill="#333333" stroke="#333333" stroke-width="0.12" text-anchor="end" textLength="16.64" lengthAdjust="spacingAndGlyphs" transform="rotate(-90 338.70 261.20)">10000</text>
<text x="204.50" y="216.50" font-size="8.8" fill="#333333" stroke="#333333" stroke-width="0.12" text-anchor="middle" textLength="77" lengthAdjust="spacingAndGlyphs" transform="rotate(-90 204.50 216.50)">% Annexin V postive cells</text>
<text x="285.40" y="289.80" font-size="8.8" fill="#333333" stroke="#333333" stroke-width="0.12" text-anchor="middle" textLength="65.5" lengthAdjust="spacingAndGlyphs">Compound Con.[nM]</text>
<rect x="229.25" y="298.9" width="9.7" height="4.2" fill="#1f4e8c"/>
<rect x="229.25" y="308.1" width="9.7" height="4.2" fill="#c8102e"/>
<text x="241.25" y="303.30" font-size="7.2" fill="#333333" stroke="#333333" stroke-width="0.12" textLength="85" lengthAdjust="spacingAndGlyphs">Venetoclax (IC<tspan font-size="4.6" dy="1.4">50</tspan><tspan dy="-1.4"> = 36 ± 10 nM)</tspan></text>
<text x="241.25" y="312.50" font-size="7.2" fill="#333333" stroke="#333333" stroke-width="0.12" textLength="101" lengthAdjust="spacingAndGlyphs">Sonrotoclax (IC<tspan font-size="4.6" dy="1.4">50</tspan><tspan dy="-1.4"> = 3.9 ± 0.53 nM)</tspan></text>
<rect x="414.47" y="252.59" width="3.75" height="1.81" fill="#c8102e"/>
<line x1="416.35" y1="252.59" x2="416.35" y2="251.09" stroke="#c8102e" stroke-width="0.6"/>
<line x1="415.45" y1="251.09" x2="417.25" y2="251.09" stroke="#c8102e" stroke-width="0.6"/>
<rect x="421.89" y="252.59" width="3.75" height="1.81" fill="#1f4e8c"/>
<line x1="423.76" y1="252.59" x2="423.76" y2="251.09" stroke="#1f4e8c" stroke-width="0.6"/>
<line x1="422.87" y1="251.09" x2="424.66" y2="251.09" stroke="#1f4e8c" stroke-width="0.6"/>
<rect x="425.64" y="248.37" width="3.75" height="6.03" fill="#c8102e"/>
<line x1="427.51" y1="248.37" x2="427.51" y2="246.87" stroke="#c8102e" stroke-width="0.6"/>
<line x1="426.62" y1="246.87" x2="428.41" y2="246.87" stroke="#c8102e" stroke-width="0.6"/>
<rect x="433.06" y="250.18" width="3.75" height="4.22" fill="#1f4e8c"/>
<line x1="434.94" y1="250.18" x2="434.94" y2="248.68" stroke="#1f4e8c" stroke-width="0.6"/>
<line x1="434.04" y1="248.68" x2="435.83" y2="248.68" stroke="#1f4e8c" stroke-width="0.6"/>
<rect x="436.81" y="216.39" width="3.75" height="38.01" fill="#c8102e"/>
<line x1="438.69" y1="216.39" x2="438.69" y2="214.89" stroke="#c8102e" stroke-width="0.6"/>
<line x1="437.79" y1="214.89" x2="439.58" y2="214.89" stroke="#c8102e" stroke-width="0.6"/>
<rect x="444.23" y="235.09" width="3.75" height="19.31" fill="#1f4e8c"/>
<line x1="446.11" y1="235.09" x2="446.11" y2="233.59" stroke="#1f4e8c" stroke-width="0.6"/>
<line x1="445.21" y1="233.59" x2="447.00" y2="233.59" stroke="#1f4e8c" stroke-width="0.6"/>
<rect x="447.98" y="197.69" width="3.75" height="56.71" fill="#c8102e"/>
<line x1="449.86" y1="197.69" x2="449.86" y2="196.19" stroke="#c8102e" stroke-width="0.6"/>
<line x1="448.96" y1="196.19" x2="450.75" y2="196.19" stroke="#c8102e" stroke-width="0.6"/>
<rect x="455.40" y="209.76" width="3.75" height="44.64" fill="#1f4e8c"/>
<line x1="457.28" y1="209.76" x2="457.28" y2="208.26" stroke="#1f4e8c" stroke-width="0.6"/>
<line x1="456.38" y1="208.26" x2="458.18" y2="208.26" stroke="#1f4e8c" stroke-width="0.6"/>
<rect x="459.15" y="199.80" width="3.75" height="54.60" fill="#c8102e"/>
<line x1="461.03" y1="199.80" x2="461.03" y2="198.30" stroke="#c8102e" stroke-width="0.6"/>
<line x1="460.13" y1="198.30" x2="461.93" y2="198.30" stroke="#c8102e" stroke-width="0.6"/>
<rect x="466.57" y="197.69" width="3.75" height="56.71" fill="#1f4e8c"/>
<line x1="468.44" y1="197.69" x2="468.44" y2="196.19" stroke="#1f4e8c" stroke-width="0.6"/>
<line x1="467.55" y1="196.19" x2="469.34" y2="196.19" stroke="#1f4e8c" stroke-width="0.6"/>
<rect x="470.32" y="198.29" width="3.75" height="56.11" fill="#c8102e"/>
<line x1="472.19" y1="198.29" x2="472.19" y2="196.79" stroke="#c8102e" stroke-width="0.6"/>
<line x1="471.30" y1="196.79" x2="473.09" y2="196.79" stroke="#c8102e" stroke-width="0.6"/>
<rect x="477.74" y="196.06" width="3.75" height="58.34" fill="#1f4e8c"/>
<line x1="479.62" y1="196.06" x2="479.62" y2="194.56" stroke="#1f4e8c" stroke-width="0.6"/>
<line x1="478.72" y1="194.56" x2="480.51" y2="194.56" stroke="#1f4e8c" stroke-width="0.6"/>
<rect x="481.49" y="198.90" width="3.75" height="55.50" fill="#c8102e"/>
<line x1="483.37" y1="198.90" x2="483.37" y2="197.40" stroke="#c8102e" stroke-width="0.6"/>
<line x1="482.47" y1="197.40" x2="484.26" y2="197.40" stroke="#c8102e" stroke-width="0.6"/>
<rect x="488.91" y="196.78" width="3.75" height="57.62" fill="#1f4e8c"/>
<line x1="490.79" y1="196.78" x2="490.79" y2="195.28" stroke="#1f4e8c" stroke-width="0.6"/>
<line x1="489.89" y1="195.28" x2="491.69" y2="195.28" stroke="#1f4e8c" stroke-width="0.6"/>
<rect x="492.66" y="198.29" width="3.75" height="56.11" fill="#c8102e"/>
<line x1="494.54" y1="198.29" x2="494.54" y2="196.79" stroke="#c8102e" stroke-width="0.6"/>
<line x1="493.64" y1="196.79" x2="495.44" y2="196.79" stroke="#c8102e" stroke-width="0.6"/>
<rect x="500.08" y="196.18" width="3.75" height="58.22" fill="#1f4e8c"/>
<line x1="501.96" y1="196.18" x2="501.96" y2="194.68" stroke="#1f4e8c" stroke-width="0.6"/>
<line x1="501.06" y1="194.68" x2="502.86" y2="194.68" stroke="#1f4e8c" stroke-width="0.6"/>
<rect x="503.83" y="198.29" width="3.75" height="56.11" fill="#c8102e"/>
<line x1="505.71" y1="198.29" x2="505.71" y2="196.79" stroke="#c8102e" stroke-width="0.6"/>
<line x1="504.81" y1="196.79" x2="506.61" y2="196.79" stroke="#c8102e" stroke-width="0.6"/>
<line x1="398.10" y1="179.40" x2="398.10" y2="255.10" stroke="#231f20" stroke-width="1.2"/>
<line x1="397.50" y1="254.50" x2="509.50" y2="254.50" stroke="#231f20" stroke-width="1.2"/>
<line x1="395.20" y1="182.00" x2="398.10" y2="182.00" stroke="#231f20" stroke-width="1.0"/>
<text x="391.80" y="184.30" font-size="6.4" fill="#333333" stroke="#333333" stroke-width="0.12" text-anchor="end">120</text>
<line x1="395.20" y1="206.14" x2="398.10" y2="206.14" stroke="#231f20" stroke-width="1.0"/>
<text x="391.80" y="208.44" font-size="6.4" fill="#333333" stroke="#333333" stroke-width="0.12" text-anchor="end">80</text>
<line x1="395.20" y1="230.27" x2="398.10" y2="230.27" stroke="#231f20" stroke-width="1.0"/>
<text x="391.80" y="232.57" font-size="6.4" fill="#333333" stroke="#333333" stroke-width="0.12" text-anchor="end">40</text>
<line x1="395.20" y1="254.40" x2="398.10" y2="254.40" stroke="#231f20" stroke-width="1.0"/>
<text x="391.80" y="256.70" font-size="6.4" fill="#333333" stroke="#333333" stroke-width="0.12" text-anchor="end">0</text>
<line x1="403.30" y1="254.40" x2="403.30" y2="256.80" stroke="#231f20" stroke-width="0.7"/>
<text x="405.60" y="261.20" font-size="7.0" fill="#333333" stroke="#333333" stroke-width="0.12" text-anchor="end" textLength="3.33" lengthAdjust="spacingAndGlyphs" transform="rotate(-90 405.60 261.20)">0</text>
<line x1="414.47" y1="254.40" x2="414.47" y2="256.80" stroke="#231f20" stroke-width="0.7"/>
<text x="416.77" y="261.20" font-size="7.0" fill="#333333" stroke="#333333" stroke-width="0.12" text-anchor="end" textLength="8.32" lengthAdjust="spacingAndGlyphs" transform="rotate(-90 416.77 261.20)">0.1</text>
<line x1="425.64" y1="254.40" x2="425.64" y2="256.80" stroke="#231f20" stroke-width="0.7"/>
<text x="427.94" y="261.20" font-size="7.0" fill="#333333" stroke="#333333" stroke-width="0.12" text-anchor="end" textLength="8.32" lengthAdjust="spacingAndGlyphs" transform="rotate(-90 427.94 261.20)">0.3</text>
<line x1="436.81" y1="254.40" x2="436.81" y2="256.80" stroke="#231f20" stroke-width="0.7"/>
<text x="439.11" y="261.20" font-size="7.0" fill="#333333" stroke="#333333" stroke-width="0.12" text-anchor="end" textLength="3.33" lengthAdjust="spacingAndGlyphs" transform="rotate(-90 439.11 261.20)">1</text>
<line x1="447.98" y1="254.40" x2="447.98" y2="256.80" stroke="#231f20" stroke-width="0.7"/>
<text x="450.28" y="261.20" font-size="7.0" fill="#333333" stroke="#333333" stroke-width="0.12" text-anchor="end" textLength="3.33" lengthAdjust="spacingAndGlyphs" transform="rotate(-90 450.28 261.20)">3</text>
<line x1="459.15" y1="254.40" x2="459.15" y2="256.80" stroke="#231f20" stroke-width="0.7"/>
<text x="461.45" y="261.20" font-size="7.0" fill="#333333" stroke="#333333" stroke-width="0.12" text-anchor="end" textLength="6.66" lengthAdjust="spacingAndGlyphs" transform="rotate(-90 461.45 261.20)">10</text>
<line x1="470.32" y1="254.40" x2="470.32" y2="256.80" stroke="#231f20" stroke-width="0.7"/>
<text x="472.62" y="261.20" font-size="7.0" fill="#333333" stroke="#333333" stroke-width="0.12" text-anchor="end" textLength="6.66" lengthAdjust="spacingAndGlyphs" transform="rotate(-90 472.62 261.20)">30</text>
<line x1="481.49" y1="254.40" x2="481.49" y2="256.80" stroke="#231f20" stroke-width="0.7"/>
<text x="483.79" y="261.20" font-size="7.0" fill="#333333" stroke="#333333" stroke-width="0.12" text-anchor="end" textLength="9.98" lengthAdjust="spacingAndGlyphs" transform="rotate(-90 483.79 261.20)">100</text>
<line x1="492.66" y1="254.40" x2="492.66" y2="256.80" stroke="#231f20" stroke-width="0.7"/>
<text x="494.96" y="261.20" font-size="7.0" fill="#333333" stroke="#333333" stroke-width="0.12" text-anchor="end" textLength="9.98" lengthAdjust="spacingAndGlyphs" transform="rotate(-90 494.96 261.20)">300</text>
<line x1="503.83" y1="254.40" x2="503.83" y2="256.80" stroke="#231f20" stroke-width="0.7"/>
<text x="506.13" y="261.20" font-size="7.0" fill="#333333" stroke="#333333" stroke-width="0.12" text-anchor="end" textLength="13.31" lengthAdjust="spacingAndGlyphs" transform="rotate(-90 506.13 261.20)">1000</text>
<text x="374.60" y="216.50" font-size="8.8" fill="#333333" stroke="#333333" stroke-width="0.12" text-anchor="middle" textLength="84" lengthAdjust="spacingAndGlyphs" transform="rotate(-90 374.60 216.50)">% Sub-G0/G1 accumulation</text>
<text x="453.75" y="289.80" font-size="8.8" fill="#333333" stroke="#333333" stroke-width="0.12" text-anchor="middle" textLength="65.5" lengthAdjust="spacingAndGlyphs">Compound Con.[nM]</text>
<rect x="398.75" y="298.9" width="9.7" height="4.2" fill="#1f4e8c"/>
<rect x="398.75" y="308.1" width="9.7" height="4.2" fill="#c8102e"/>
<text x="410.00" y="303.30" font-size="7.2" fill="#333333" stroke="#333333" stroke-width="0.12" textLength="95" lengthAdjust="spacingAndGlyphs">Venetoclax (IC<tspan font-size="4.6" dy="1.4">50</tspan><tspan dy="-1.4"> = 5.2 ± 1.6 nM)</tspan></text>
<text x="410.00" y="312.50" font-size="7.2" fill="#333333" stroke="#333333" stroke-width="0.12" textLength="104.25" lengthAdjust="spacingAndGlyphs">Sonrotoclax (IC<tspan font-size="4.6" dy="1.4">50</tspan><tspan dy="-1.4"> = 0.77 ± 0.22 nM)</tspan></text>
<line x1="58.50" y1="358.60" x2="58.50" y2="438.70" stroke="#231f20" stroke-width="1.2"/>
<line x1="57.90" y1="438.10" x2="173.30" y2="438.10" stroke="#231f20" stroke-width="1.2"/>
<line x1="55.60" y1="361.20" x2="58.50" y2="361.20" stroke="#231f20" stroke-width="1.0"/>
<text x="52.20" y="363.50" font-size="6.4" fill="#333333" stroke="#333333" stroke-width="0.12" text-anchor="end">120</text>
<line x1="55.60" y1="391.90" x2="58.50" y2="391.90" stroke="#231f20" stroke-width="1.0"/>
<text x="52.20" y="394.20" font-size="6.4" fill="#333333" stroke="#333333" stroke-width="0.12" text-anchor="end">60</text>
<line x1="55.60" y1="422.60" x2="58.50" y2="422.60" stroke="#231f20" stroke-width="1.0"/>
<text x="52.20" y="424.90" font-size="6.4" fill="#333333" stroke="#333333" stroke-width="0.12" text-anchor="end">0</text>
<line x1="55.60" y1="437.95" x2="58.50" y2="437.95" stroke="#231f20" stroke-width="1.0"/>
<text x="52.20" y="440.25" font-size="6.4" fill="#333333" stroke="#333333" stroke-width="0.12" text-anchor="end">–30</text>
<line x1="58.50" y1="438.40" x2="58.50" y2="441.20" stroke="#231f20" stroke-width="0.8"/>
<text x="58.50" y="450.30" font-size="6.6" fill="#333333" stroke="#333333" stroke-width="0.12" text-anchor="middle">–2</text>
<line x1="91.20" y1="438.40" x2="91.20" y2="441.20" stroke="#231f20" stroke-width="0.8"/>
<text x="91.20" y="450.30" font-size="6.6" fill="#333333" stroke="#333333" stroke-width="0.12" text-anchor="middle">0</text>
<line x1="123.90" y1="438.40" x2="123.90" y2="441.20" stroke="#231f20" stroke-width="0.8"/>
<text x="123.90" y="450.30" font-size="6.6" fill="#333333" stroke="#333333" stroke-width="0.12" text-anchor="middle">2</text>
<line x1="156.60" y1="438.40" x2="156.60" y2="441.20" stroke="#231f20" stroke-width="0.8"/>
<text x="156.60" y="450.30" font-size="6.6" fill="#333333" stroke="#333333" stroke-width="0.12" text-anchor="middle">4</text>
<text x="116.00" y="462.30" font-size="8.6" fill="#333333" stroke="#333333" stroke-width="0.12" text-anchor="middle" textLength="71" lengthAdjust="spacingAndGlyphs">Log concentration [nM]</text>
<text x="116.00" y="353.50" font-size="8.6" fill="#333333" stroke="#333333" stroke-width="0.12" text-anchor="middle" textLength="56" lengthAdjust="spacingAndGlyphs">MV4-11 (AML)</text>
<text x="25.70" y="398.60" font-size="9.2" fill="#333333" stroke="#333333" stroke-width="0.12" text-anchor="middle" textLength="46" lengthAdjust="spacingAndGlyphs" transform="rotate(-90 25.70 398.60)">% Cell viability</text>
<text x="36.30" y="398.60" font-size="9.2" fill="#333333" stroke="#333333" stroke-width="0.12" text-anchor="middle" textLength="70" lengthAdjust="spacingAndGlyphs" transform="rotate(-90 36.30 398.60)">(normalized to DMSO)</text>
<line x1="58.50" y1="402.60" x2="173.30" y2="402.60" stroke="#231f20" stroke-width="0.9" stroke-dasharray="2 2.2"/>
<path d="M58.50,371.97 L59.32,371.97 L60.14,371.97 L60.95,371.98 L61.77,371.98 L62.59,371.99 L63.41,371.99 L64.22,372.00 L65.04,372.01 L65.86,372.02 L66.67,372.03 L67.49,372.04 L68.31,372.05 L69.13,372.06 L69.94,372.08 L70.76,372.09 L71.58,372.11 L72.40,372.14 L73.22,372.16 L74.03,372.19 L74.85,372.22 L75.67,372.26 L76.48,372.30 L77.30,372.34 L78.12,372.39 L78.94,372.45 L79.75,372.51 L80.57,372.59 L81.39,372.67 L82.21,372.76 L83.03,372.86 L83.84,372.98 L84.66,373.11 L85.48,373.25 L86.30,373.42 L87.11,373.60 L87.93,373.81 L88.75,374.04 L89.56,374.29 L90.38,374.58 L91.20,374.90 L92.02,375.26 L92.84,375.65 L93.65,376.09 L94.47,376.57 L95.29,377.11 L96.10,377.69 L96.92,378.34 L97.74,379.05 L98.56,379.82 L99.38,380.65 L100.19,381.56 L101.01,382.54 L101.83,383.59 L102.65,384.71 L103.46,385.90 L104.28,387.15 L105.10,388.47 L105.91,389.84 L106.73,391.26 L107.55,392.73 L108.37,394.22 L109.19,395.74 L110.00,397.27 L110.82,398.80 L111.64,400.32 L112.45,401.81 L113.27,403.28 L114.09,404.70 L114.91,406.07 L115.73,407.39 L116.54,408.65 L117.36,409.83 L118.18,410.95 L119.00,412.00 L119.81,412.98 L120.63,413.89 L121.45,414.72 L122.27,415.50 L123.08,416.20 L123.90,416.85 L124.72,417.44 L125.53,417.97 L126.35,418.45 L127.17,418.89 L127.99,419.29 L128.81,419.64 L129.62,419.96 L130.44,420.25 L131.26,420.50 L132.07,420.73 L132.89,420.94 L133.71,421.12 L134.53,421.29 L135.35,421.43 L136.16,421.56 L136.98,421.68 L137.80,421.78 L138.62,421.87 L139.43,421.96 L140.25,422.03 L141.07,422.09 L141.88,422.15 L142.70,422.20 L143.52,422.25 L144.34,422.29 L145.16,422.32 L145.97,422.35 L146.79,422.38 L147.61,422.41 L148.43,422.43 L149.24,422.45 L150.06,422.46 L150.88,422.48 L151.69,422.49 L152.51,422.51 L153.33,422.52 L154.15,422.53 L154.97,422.53 L155.78,422.54 L156.60,422.55" stroke="#4a6276" stroke-width="0.9" fill="none" stroke-linejoin="round"/>
<path d="M58.50,372.20 L59.32,372.23 L60.14,372.27 L60.95,372.31 L61.77,372.36 L62.59,372.42 L63.41,372.48 L64.22,372.55 L65.04,372.63 L65.86,372.72 L66.67,372.82 L67.49,372.94 L68.31,373.07 L69.13,373.21 L69.94,373.38 L70.76,373.56 L71.58,373.77 L72.40,374.00 L73.22,374.26 L74.03,374.55 L74.85,374.87 L75.67,375.24 L76.48,375.64 L77.30,376.09 L78.12,376.59 L78.94,377.14 L79.75,377.75 L80.57,378.42 L81.39,379.16 L82.21,379.96 L83.03,380.83 L83.84,381.78 L84.66,382.81 L85.48,383.91 L86.30,385.08 L87.11,386.32 L87.93,387.64 L88.75,389.02 L89.56,390.45 L90.38,391.93 L91.20,393.46 L92.02,395.01 L92.84,396.58 L93.65,398.15 L94.47,399.72 L95.29,401.27 L96.10,402.79 L96.92,404.27 L97.74,405.69 L98.56,407.06 L99.38,408.37 L100.19,409.61 L101.01,410.77 L101.83,411.86 L102.65,412.88 L103.46,413.82 L104.28,414.68 L105.10,415.48 L105.91,416.21 L106.73,416.87 L107.55,417.47 L108.37,418.02 L109.19,418.51 L110.00,418.95 L110.82,419.35 L111.64,419.71 L112.45,420.03 L113.27,420.32 L114.09,420.57 L114.91,420.80 L115.73,421.01 L116.54,421.19 L117.36,421.35 L118.18,421.49 L119.00,421.62 L119.81,421.73 L120.63,421.83 L121.45,421.92 L122.27,422.00 L123.08,422.07 L123.90,422.13 L124.72,422.18 L125.53,422.23 L126.35,422.28 L127.17,422.31 L127.99,422.35 L128.81,422.38 L129.62,422.40 L130.44,422.43 L131.26,422.45 L132.07,422.46 L132.89,422.48 L133.71,422.49 L134.53,422.51 L135.35,422.52 L136.16,422.53 L136.98,422.54 L137.80,422.54 L138.62,422.55 L139.43,422.56 L140.25,422.56 L141.07,422.57 L141.88,422.57 L142.70,422.57 L143.52,422.58 L144.34,422.58 L145.16,422.58 L145.97,422.58 L146.79,422.59 L147.61,422.59 L148.43,422.59 L149.24,422.59 L150.06,422.59 L150.88,422.59 L151.69,422.59 L152.51,422.59 L153.33,422.59 L154.15,422.60 L154.97,422.60 L155.78,422.60 L156.60,422.60" stroke="#cf3a5e" stroke-width="0.9" fill="none" stroke-linejoin="round"/>
<line x1="91.20" y1="369.65" x2="91.20" y2="375.25" stroke="#4a6276" stroke-width="0.7"/>
<line x1="90.20" y1="369.65" x2="92.20" y2="369.65" stroke="#4a6276" stroke-width="0.6"/>
<line x1="90.20" y1="375.25" x2="92.20" y2="375.25" stroke="#4a6276" stroke-width="0.6"/>
<line x1="91.20" y1="391.63" x2="91.20" y2="395.23" stroke="#cf3a5e" stroke-width="0.7"/>
<line x1="90.20" y1="391.63" x2="92.20" y2="391.63" stroke="#cf3a5e" stroke-width="0.6"/>
<line x1="90.20" y1="395.23" x2="92.20" y2="395.23" stroke="#cf3a5e" stroke-width="0.6"/>
<line x1="132.07" y1="418.39" x2="132.07" y2="421.39" stroke="#4a6276" stroke-width="0.7"/>
<line x1="131.07" y1="418.39" x2="133.07" y2="418.39" stroke="#4a6276" stroke-width="0.6"/>
<line x1="131.07" y1="421.39" x2="133.07" y2="421.39" stroke="#4a6276" stroke-width="0.6"/>
<circle cx="91.20" cy="372.45" r="1.15" fill="#1a2c3c"/>
<circle cx="99.38" cy="380.13" r="1.15" fill="#1a2c3c"/>
<circle cx="107.55" cy="395.48" r="1.15" fill="#1a2c3c"/>
<circle cx="115.73" cy="404.79" r="1.15" fill="#1a2c3c"/>
<circle cx="123.90" cy="414.98" r="1.15" fill="#1a2c3c"/>
<circle cx="132.07" cy="419.89" r="1.15" fill="#1a2c3c"/>
<circle cx="140.25" cy="421.99" r="1.15" fill="#1a2c3c"/>
<circle cx="148.43" cy="422.40" r="1.15" fill="#1a2c3c"/>
<circle cx="156.60" cy="422.60" r="1.15" fill="#1a2c3c"/>
<circle cx="91.20" cy="393.43" r="1.15" fill="#9a0c32"/>
<circle cx="99.38" cy="409.30" r="1.15" fill="#9a0c32"/>
<circle cx="107.55" cy="417.48" r="1.15" fill="#9a0c32"/>
<circle cx="115.73" cy="420.71" r="1.15" fill="#9a0c32"/>
<circle cx="123.90" cy="421.32" r="1.15" fill="#9a0c32"/>
<circle cx="132.07" cy="421.78" r="1.15" fill="#9a0c32"/>
<circle cx="140.25" cy="421.99" r="1.15" fill="#9a0c32"/>
<circle cx="148.43" cy="422.40" r="1.15" fill="#9a0c32"/>
<circle cx="156.60" cy="422.60" r="1.15" fill="#9a0c32"/>
<line x1="126.90" y1="370.90" x2="134.70" y2="370.90" stroke="#e06a8a" stroke-width="1.2"/>
<rect x="129.80" y="369.90" width="2.0" height="2.0" fill="#9a0c32"/>
<line x1="126.90" y1="379.50" x2="134.70" y2="379.50" stroke="#5f8f82" stroke-width="1.2"/>
<rect x="129.80" y="378.50" width="2.0" height="2.0" fill="#123024"/>
<text x="138.10" y="373.00" font-size="7.4" fill="#333333" stroke="#333333" stroke-width="0.12" textLength="34.6" lengthAdjust="spacingAndGlyphs">Sonrotoclax</text>
<text x="138.10" y="382.00" font-size="7.4" fill="#333333" stroke="#333333" stroke-width="0.12" textLength="32.4" lengthAdjust="spacingAndGlyphs">Venetoclax</text>
<line x1="228.50" y1="358.60" x2="228.50" y2="438.70" stroke="#231f20" stroke-width="1.2"/>
<line x1="227.90" y1="438.10" x2="343.30" y2="438.10" stroke="#231f20" stroke-width="1.2"/>
<line x1="225.60" y1="361.20" x2="228.50" y2="361.20" stroke="#231f20" stroke-width="1.0"/>
<text x="222.20" y="363.50" font-size="6.4" fill="#333333" stroke="#333333" stroke-width="0.12" text-anchor="end">120</text>
<line x1="225.60" y1="391.90" x2="228.50" y2="391.90" stroke="#231f20" stroke-width="1.0"/>
<text x="222.20" y="394.20" font-size="6.4" fill="#333333" stroke="#333333" stroke-width="0.12" text-anchor="end">60</text>
<line x1="225.60" y1="422.60" x2="228.50" y2="422.60" stroke="#231f20" stroke-width="1.0"/>
<text x="222.20" y="424.90" font-size="6.4" fill="#333333" stroke="#333333" stroke-width="0.12" text-anchor="end">0</text>
<line x1="225.60" y1="437.95" x2="228.50" y2="437.95" stroke="#231f20" stroke-width="1.0"/>
<text x="222.20" y="440.25" font-size="6.4" fill="#333333" stroke="#333333" stroke-width="0.12" text-anchor="end">–30</text>
<line x1="228.50" y1="438.40" x2="228.50" y2="441.20" stroke="#231f20" stroke-width="0.8"/>
<text x="228.50" y="450.30" font-size="6.6" fill="#333333" stroke="#333333" stroke-width="0.12" text-anchor="middle">–2</text>
<line x1="261.20" y1="438.40" x2="261.20" y2="441.20" stroke="#231f20" stroke-width="0.8"/>
<text x="261.20" y="450.30" font-size="6.6" fill="#333333" stroke="#333333" stroke-width="0.12" text-anchor="middle">0</text>
<line x1="293.90" y1="438.40" x2="293.90" y2="441.20" stroke="#231f20" stroke-width="0.8"/>
<text x="293.90" y="450.30" font-size="6.6" fill="#333333" stroke="#333333" stroke-width="0.12" text-anchor="middle">2</text>
<line x1="326.60" y1="438.40" x2="326.60" y2="441.20" stroke="#231f20" stroke-width="0.8"/>
<text x="326.60" y="450.30" font-size="6.6" fill="#333333" stroke="#333333" stroke-width="0.12" text-anchor="middle">4</text>
<text x="286.00" y="462.30" font-size="8.6" fill="#333333" stroke="#333333" stroke-width="0.12" text-anchor="middle" textLength="71" lengthAdjust="spacingAndGlyphs">Log concentration [nM]</text>
<text x="286.00" y="353.50" font-size="8.6" fill="#333333" stroke="#333333" stroke-width="0.12" text-anchor="middle" textLength="65" lengthAdjust="spacingAndGlyphs">MAVER-1 (MCL)</text>
<text x="195.70" y="398.60" font-size="9.2" fill="#333333" stroke="#333333" stroke-width="0.12" text-anchor="middle" textLength="46" lengthAdjust="spacingAndGlyphs" transform="rotate(-90 195.70 398.60)">% Cell viability</text>
<text x="206.30" y="398.60" font-size="9.2" fill="#333333" stroke="#333333" stroke-width="0.12" text-anchor="middle" textLength="70" lengthAdjust="spacingAndGlyphs" transform="rotate(-90 206.30 398.60)">(normalized to DMSO)</text>
<line x1="228.50" y1="402.60" x2="343.30" y2="402.60" stroke="#231f20" stroke-width="0.9" stroke-dasharray="2 2.2"/>
<path d="M228.50,371.94 L229.32,371.94 L230.13,371.94 L230.95,371.94 L231.77,371.94 L232.59,371.94 L233.41,371.95 L234.22,371.95 L235.04,371.95 L235.86,371.95 L236.68,371.95 L237.49,371.95 L238.31,371.95 L239.13,371.96 L239.94,371.96 L240.76,371.96 L241.58,371.97 L242.40,371.97 L243.22,371.98 L244.03,371.99 L244.85,372.00 L245.67,372.01 L246.49,372.02 L247.30,372.04 L248.12,372.06 L248.94,372.09 L249.75,372.12 L250.57,372.15 L251.39,372.20 L252.21,372.25 L253.03,372.32 L253.84,372.39 L254.66,372.49 L255.48,372.60 L256.30,372.74 L257.11,372.91 L257.93,373.11 L258.75,373.35 L259.56,373.63 L260.38,373.98 L261.20,374.39 L262.02,374.88 L262.84,375.46 L263.65,376.14 L264.47,376.94 L265.29,377.88 L266.11,378.97 L266.92,380.21 L267.74,381.63 L268.56,383.23 L269.38,385.00 L270.19,386.95 L271.01,389.06 L271.83,391.30 L272.64,393.64 L273.46,396.05 L274.28,398.49 L275.10,400.90 L275.92,403.24 L276.73,405.49 L277.55,407.59 L278.37,409.54 L279.19,411.32 L280.00,412.91 L280.82,414.33 L281.64,415.58 L282.45,416.66 L283.27,417.60 L284.09,418.40 L284.91,419.08 L285.73,419.66 L286.54,420.15 L287.36,420.56 L288.18,420.91 L289.00,421.19 L289.81,421.44 L290.63,421.63 L291.45,421.80 L292.26,421.94 L293.08,422.05 L293.90,422.15 L294.72,422.23 L295.53,422.29 L296.35,422.35 L297.17,422.39 L297.99,422.43 L298.81,422.46 L299.62,422.48 L300.44,422.50 L301.26,422.52 L302.07,422.53 L302.89,422.55 L303.71,422.55 L304.53,422.56 L305.35,422.57 L306.16,422.57 L306.98,422.58 L307.80,422.58 L308.62,422.59 L309.43,422.59 L310.25,422.59 L311.07,422.59 L311.88,422.59 L312.70,422.59 L313.52,422.60 L314.34,422.60 L315.15,422.60 L315.97,422.60 L316.79,422.60 L317.61,422.60 L318.43,422.60 L319.24,422.60 L320.06,422.60 L320.88,422.60 L321.69,422.60 L322.51,422.60 L323.33,422.60 L324.15,422.60 L324.97,422.60 L325.78,422.60 L326.60,422.60" stroke="#4a6276" stroke-width="0.9" fill="none" stroke-linejoin="round"/>
<path d="M228.50,371.94 L229.32,371.94 L230.13,371.94 L230.95,371.94 L231.77,371.94 L232.59,371.94 L233.41,371.95 L234.22,371.95 L235.04,371.95 L235.86,371.95 L236.68,371.95 L237.49,371.96 L238.31,371.96 L239.13,371.97 L239.94,371.98 L240.76,371.99 L241.58,372.01 L242.40,372.03 L243.22,372.06 L244.03,372.10 L244.85,372.15 L245.67,372.22 L246.49,372.32 L247.30,372.44 L248.12,372.61 L248.94,372.83 L249.75,373.12 L250.57,373.49 L251.39,373.99 L252.21,374.64 L253.03,375.48 L253.84,376.55 L254.66,377.90 L255.48,379.59 L256.30,381.65 L257.11,384.11 L257.93,386.97 L258.75,390.18 L259.56,393.65 L260.38,397.27 L261.20,400.89 L262.02,404.37 L262.84,407.57 L263.65,410.43 L264.47,412.89 L265.29,414.95 L266.11,416.64 L266.92,417.99 L267.74,419.07 L268.56,419.90 L269.38,420.55 L270.19,421.05 L271.01,421.43 L271.83,421.71 L272.64,421.93 L273.46,422.10 L274.28,422.22 L275.10,422.32 L275.92,422.39 L276.73,422.44 L277.55,422.48 L278.37,422.51 L279.19,422.53 L280.00,422.55 L280.82,422.56 L281.64,422.57 L282.45,422.58 L283.27,422.58 L284.09,422.59 L284.91,422.59 L285.73,422.59 L286.54,422.59 L287.36,422.60 L288.18,422.60 L289.00,422.60 L289.81,422.60 L290.63,422.60 L291.45,422.60 L292.26,422.60 L293.08,422.60 L293.90,422.60 L294.72,422.60 L295.53,422.60 L296.35,422.60 L297.17,422.60 L297.99,422.60 L298.81,422.60 L299.62,422.60 L300.44,422.60 L301.26,422.60 L302.07,422.60 L302.89,422.60 L303.71,422.60 L304.53,422.60 L305.35,422.60 L306.16,422.60 L306.98,422.60 L307.80,422.60 L308.62,422.60 L309.43,422.60 L310.25,422.60 L311.07,422.60 L311.88,422.60 L312.70,422.60 L313.52,422.60 L314.34,422.60 L315.15,422.60 L315.97,422.60 L316.79,422.60 L317.61,422.60 L318.43,422.60 L319.24,422.60 L320.06,422.60 L320.88,422.60 L321.69,422.60 L322.51,422.60 L323.33,422.60 L324.15,422.60 L324.97,422.60 L325.78,422.60 L326.60,422.60" stroke="#cf3a5e" stroke-width="0.9" fill="none" stroke-linejoin="round"/>
<circle cx="261.20" cy="374.50" r="1.15" fill="#1a2c3c"/>
<circle cx="269.38" cy="384.99" r="1.15" fill="#1a2c3c"/>
<circle cx="277.55" cy="407.61" r="1.15" fill="#1a2c3c"/>
<circle cx="285.73" cy="419.89" r="1.15" fill="#1a2c3c"/>
<circle cx="293.90" cy="422.60" r="1.15" fill="#1a2c3c"/>
<circle cx="302.07" cy="422.60" r="1.15" fill="#1a2c3c"/>
<circle cx="310.25" cy="422.60" r="1.15" fill="#1a2c3c"/>
<circle cx="318.43" cy="422.60" r="1.15" fill="#1a2c3c"/>
<circle cx="326.60" cy="422.60" r="1.15" fill="#1a2c3c"/>
<circle cx="261.20" cy="400.19" r="1.15" fill="#9a0c32"/>
<circle cx="269.38" cy="420.30" r="1.15" fill="#9a0c32"/>
<circle cx="277.55" cy="422.60" r="1.15" fill="#9a0c32"/>
<circle cx="285.73" cy="422.60" r="1.15" fill="#9a0c32"/>
<circle cx="293.90" cy="422.60" r="1.15" fill="#9a0c32"/>
<circle cx="302.07" cy="422.60" r="1.15" fill="#9a0c32"/>
<circle cx="310.25" cy="422.60" r="1.15" fill="#9a0c32"/>
<circle cx="318.43" cy="422.60" r="1.15" fill="#9a0c32"/>
<circle cx="326.60" cy="422.60" r="1.15" fill="#9a0c32"/>
<line x1="296.90" y1="370.90" x2="304.70" y2="370.90" stroke="#e06a8a" stroke-width="1.2"/>
<rect x="299.80" y="369.90" width="2.0" height="2.0" fill="#9a0c32"/>
<line x1="296.90" y1="379.50" x2="304.70" y2="379.50" stroke="#5f8f82" stroke-width="1.2"/>
<rect x="299.80" y="378.50" width="2.0" height="2.0" fill="#123024"/>
<text x="308.10" y="373.00" font-size="7.4" fill="#333333" stroke="#333333" stroke-width="0.12" textLength="34.6" lengthAdjust="spacingAndGlyphs">Sonrotoclax</text>
<text x="308.10" y="382.00" font-size="7.4" fill="#333333" stroke="#333333" stroke-width="0.12" textLength="32.4" lengthAdjust="spacingAndGlyphs">Venetoclax</text>
<line x1="398.10" y1="358.60" x2="398.10" y2="438.70" stroke="#231f20" stroke-width="1.2"/>
<line x1="397.50" y1="438.10" x2="512.90" y2="438.10" stroke="#231f20" stroke-width="1.2"/>
<line x1="395.20" y1="361.20" x2="398.10" y2="361.20" stroke="#231f20" stroke-width="1.0"/>
<text x="391.80" y="363.50" font-size="6.4" fill="#333333" stroke="#333333" stroke-width="0.12" text-anchor="end">120</text>
<line x1="395.20" y1="391.90" x2="398.10" y2="391.90" stroke="#231f20" stroke-width="1.0"/>
<text x="391.80" y="394.20" font-size="6.4" fill="#333333" stroke="#333333" stroke-width="0.12" text-anchor="end">60</text>
<line x1="395.20" y1="422.60" x2="398.10" y2="422.60" stroke="#231f20" stroke-width="1.0"/>
<text x="391.80" y="424.90" font-size="6.4" fill="#333333" stroke="#333333" stroke-width="0.12" text-anchor="end">0</text>
<line x1="395.20" y1="437.95" x2="398.10" y2="437.95" stroke="#231f20" stroke-width="1.0"/>
<text x="391.80" y="440.25" font-size="6.4" fill="#333333" stroke="#333333" stroke-width="0.12" text-anchor="end">–30</text>
<line x1="398.10" y1="438.40" x2="398.10" y2="441.20" stroke="#231f20" stroke-width="0.8"/>
<text x="398.10" y="450.30" font-size="6.6" fill="#333333" stroke="#333333" stroke-width="0.12" text-anchor="middle">–2</text>
<line x1="430.80" y1="438.40" x2="430.80" y2="441.20" stroke="#231f20" stroke-width="0.8"/>
<text x="430.80" y="450.30" font-size="6.6" fill="#333333" stroke="#333333" stroke-width="0.12" text-anchor="middle">0</text>
<line x1="463.50" y1="438.40" x2="463.50" y2="441.20" stroke="#231f20" stroke-width="0.8"/>
<text x="463.50" y="450.30" font-size="6.6" fill="#333333" stroke="#333333" stroke-width="0.12" text-anchor="middle">2</text>
<line x1="496.20" y1="438.40" x2="496.20" y2="441.20" stroke="#231f20" stroke-width="0.8"/>
<text x="496.20" y="450.30" font-size="6.6" fill="#333333" stroke="#333333" stroke-width="0.12" text-anchor="middle">4</text>
<text x="455.60" y="462.30" font-size="8.6" fill="#333333" stroke="#333333" stroke-width="0.12" text-anchor="middle" textLength="71" lengthAdjust="spacingAndGlyphs">Log concentration [nM]</text>
<text x="455.60" y="353.50" font-size="8.6" fill="#333333" stroke="#333333" stroke-width="0.12" text-anchor="middle" textLength="62.5" lengthAdjust="spacingAndGlyphs">Toledo (DLBCL)</text>
<text x="365.30" y="398.60" font-size="9.2" fill="#333333" stroke="#333333" stroke-width="0.12" text-anchor="middle" textLength="46" lengthAdjust="spacingAndGlyphs" transform="rotate(-90 365.30 398.60)">% Cell viability</text>
<text x="375.90" y="398.60" font-size="9.2" fill="#333333" stroke="#333333" stroke-width="0.12" text-anchor="middle" textLength="70" lengthAdjust="spacingAndGlyphs" transform="rotate(-90 375.90 398.60)">(normalized to DMSO)</text>
<line x1="398.10" y1="402.60" x2="512.90" y2="402.60" stroke="#231f20" stroke-width="0.9" stroke-dasharray="2 2.2"/>
<path d="M398.10,371.94 L398.92,371.94 L399.74,371.94 L400.55,371.94 L401.37,371.94 L402.19,371.94 L403.00,371.94 L403.82,371.94 L404.64,371.94 L405.46,371.94 L406.28,371.94 L407.09,371.94 L407.91,371.94 L408.73,371.94 L409.55,371.94 L410.36,371.94 L411.18,371.94 L412.00,371.94 L412.81,371.94 L413.63,371.94 L414.45,371.94 L415.27,371.94 L416.09,371.94 L416.90,371.94 L417.72,371.94 L418.54,371.94 L419.36,371.94 L420.17,371.94 L420.99,371.94 L421.81,371.94 L422.62,371.95 L423.44,371.95 L424.26,371.95 L425.08,371.95 L425.90,371.95 L426.71,371.95 L427.53,371.95 L428.35,371.96 L429.17,371.96 L429.98,371.97 L430.80,371.97 L431.62,371.98 L432.44,371.99 L433.25,372.00 L434.07,372.01 L434.89,372.02 L435.71,372.04 L436.52,372.07 L437.34,372.09 L438.16,372.13 L438.98,372.17 L439.79,372.22 L440.61,372.29 L441.43,372.37 L442.25,372.47 L443.06,372.59 L443.88,372.73 L444.70,372.91 L445.52,373.13 L446.33,373.39 L447.15,373.72 L447.97,374.11 L448.79,374.58 L449.60,375.15 L450.42,375.83 L451.24,376.64 L452.06,377.61 L452.87,378.74 L453.69,380.05 L454.51,381.56 L455.33,383.28 L456.14,385.21 L456.96,387.34 L457.78,389.64 L458.60,392.10 L459.41,394.66 L460.23,397.27 L461.05,399.89 L461.87,402.45 L462.68,404.90 L463.50,407.21 L464.32,409.33 L465.13,411.26 L465.95,412.98 L466.77,414.49 L467.59,415.81 L468.41,416.94 L469.22,417.90 L470.04,418.71 L470.86,419.39 L471.68,419.96 L472.49,420.43 L473.31,420.83 L474.13,421.15 L474.95,421.41 L475.76,421.63 L476.58,421.81 L477.40,421.96 L478.22,422.08 L479.03,422.17 L479.85,422.25 L480.67,422.32 L481.49,422.37 L482.30,422.41 L483.12,422.45 L483.94,422.48 L484.75,422.50 L485.57,422.52 L486.39,422.53 L487.21,422.55 L488.03,422.56 L488.84,422.56 L489.66,422.57 L490.48,422.58 L491.30,422.58 L492.11,422.58 L492.93,422.59 L493.75,422.59 L494.57,422.59 L495.38,422.59 L496.20,422.59" stroke="#4a6276" stroke-width="0.9" fill="none" stroke-linejoin="round"/>
<path d="M398.10,371.94 L398.92,371.94 L399.74,371.94 L400.55,371.94 L401.37,371.94 L402.19,371.94 L403.00,371.94 L403.82,371.95 L404.64,371.95 L405.46,371.95 L406.28,371.95 L407.09,371.95 L407.91,371.95 L408.73,371.95 L409.55,371.96 L410.36,371.96 L411.18,371.97 L412.00,371.97 L412.81,371.98 L413.63,371.99 L414.45,372.00 L415.27,372.01 L416.09,372.03 L416.90,372.05 L417.72,372.07 L418.54,372.10 L419.36,372.13 L420.17,372.18 L420.99,372.23 L421.81,372.30 L422.62,372.38 L423.44,372.48 L424.26,372.60 L425.08,372.74 L425.90,372.92 L426.71,373.14 L427.53,373.41 L428.35,373.73 L429.17,374.13 L429.98,374.60 L430.80,375.17 L431.62,375.85 L432.44,376.66 L433.25,377.62 L434.07,378.75 L434.89,380.06 L435.71,381.56 L436.52,383.27 L437.34,385.18 L438.16,387.30 L438.98,389.59 L439.79,392.02 L440.61,394.57 L441.43,397.17 L442.25,399.77 L443.06,402.32 L443.88,404.77 L444.70,407.07 L445.52,409.20 L446.33,411.13 L447.15,412.85 L447.97,414.37 L448.79,415.70 L449.60,416.84 L450.42,417.81 L451.24,418.63 L452.06,419.32 L452.87,419.90 L453.69,420.38 L454.51,420.78 L455.33,421.11 L456.14,421.38 L456.96,421.60 L457.78,421.78 L458.60,421.93 L459.41,422.06 L460.23,422.16 L461.05,422.24 L461.87,422.31 L462.68,422.36 L463.50,422.40 L464.32,422.44 L465.13,422.47 L465.95,422.49 L466.77,422.51 L467.59,422.53 L468.41,422.54 L469.22,422.55 L470.04,422.56 L470.86,422.57 L471.68,422.58 L472.49,422.58 L473.31,422.58 L474.13,422.59 L474.95,422.59 L475.76,422.59 L476.58,422.59 L477.40,422.59 L478.22,422.60 L479.03,422.60 L479.85,422.60 L480.67,422.60 L481.49,422.60 L482.30,422.60 L483.12,422.60 L483.94,422.60 L484.75,422.60 L485.57,422.60 L486.39,422.60 L487.21,422.60 L488.03,422.60 L488.84,422.60 L489.66,422.60 L490.48,422.60 L491.30,422.60 L492.11,422.60 L492.93,422.60 L493.75,422.60 L494.57,422.60 L495.38,422.60 L496.20,422.60" stroke="#cf3a5e" stroke-width="0.9" fill="none" stroke-linejoin="round"/>
<line x1="438.98" y1="387.40" x2="438.98" y2="391.80" stroke="#cf3a5e" stroke-width="0.7"/>
<line x1="437.98" y1="387.40" x2="439.98" y2="387.40" stroke="#cf3a5e" stroke-width="0.6"/>
<line x1="437.98" y1="391.80" x2="439.98" y2="391.80" stroke="#cf3a5e" stroke-width="0.6"/>
<line x1="447.15" y1="410.38" x2="447.15" y2="415.38" stroke="#cf3a5e" stroke-width="0.7"/>
<line x1="446.15" y1="410.38" x2="448.15" y2="410.38" stroke="#cf3a5e" stroke-width="0.6"/>
<line x1="446.15" y1="415.38" x2="448.15" y2="415.38" stroke="#cf3a5e" stroke-width="0.6"/>
<line x1="447.15" y1="370.91" x2="447.15" y2="374.51" stroke="#4a6276" stroke-width="0.7"/>
<line x1="446.15" y1="370.91" x2="448.15" y2="370.91" stroke="#4a6276" stroke-width="0.6"/>
<line x1="446.15" y1="374.51" x2="448.15" y2="374.51" stroke="#4a6276" stroke-width="0.6"/>
<line x1="455.33" y1="382.90" x2="455.33" y2="387.90" stroke="#4a6276" stroke-width="0.7"/>
<line x1="454.33" y1="382.90" x2="456.33" y2="382.90" stroke="#4a6276" stroke-width="0.6"/>
<line x1="454.33" y1="387.90" x2="456.33" y2="387.90" stroke="#4a6276" stroke-width="0.6"/>
<line x1="463.50" y1="402.51" x2="463.50" y2="408.51" stroke="#4a6276" stroke-width="0.7"/>
<line x1="462.50" y1="402.51" x2="464.50" y2="402.51" stroke="#4a6276" stroke-width="0.6"/>
<line x1="462.50" y1="408.51" x2="464.50" y2="408.51" stroke="#4a6276" stroke-width="0.6"/>
<line x1="471.68" y1="417.72" x2="471.68" y2="420.72" stroke="#4a6276" stroke-width="0.7"/>
<line x1="470.68" y1="417.72" x2="472.68" y2="417.72" stroke="#4a6276" stroke-width="0.6"/>
<line x1="470.68" y1="420.72" x2="472.68" y2="420.72" stroke="#4a6276" stroke-width="0.6"/>
<circle cx="430.80" cy="370.41" r="1.15" fill="#1a2c3c"/>
<circle cx="438.98" cy="370.41" r="1.15" fill="#1a2c3c"/>
<circle cx="447.15" cy="372.71" r="1.15" fill="#1a2c3c"/>
<circle cx="455.33" cy="385.40" r="1.15" fill="#1a2c3c"/>
<circle cx="463.50" cy="405.51" r="1.15" fill="#1a2c3c"/>
<circle cx="471.68" cy="419.22" r="1.15" fill="#1a2c3c"/>
<circle cx="479.85" cy="422.40" r="1.15" fill="#1a2c3c"/>
<circle cx="488.03" cy="422.60" r="1.15" fill="#1a2c3c"/>
<circle cx="496.20" cy="422.60" r="1.15" fill="#1a2c3c"/>
<circle cx="430.80" cy="376.04" r="1.15" fill="#9a0c32"/>
<circle cx="438.98" cy="389.60" r="1.15" fill="#9a0c32"/>
<circle cx="447.15" cy="412.88" r="1.15" fill="#9a0c32"/>
<circle cx="455.33" cy="421.99" r="1.15" fill="#9a0c32"/>
<circle cx="463.50" cy="422.60" r="1.15" fill="#9a0c32"/>
<circle cx="471.68" cy="422.60" r="1.15" fill="#9a0c32"/>
<circle cx="479.85" cy="422.60" r="1.15" fill="#9a0c32"/>
<circle cx="488.03" cy="422.60" r="1.15" fill="#9a0c32"/>
<circle cx="496.20" cy="422.60" r="1.15" fill="#9a0c32"/>
<line x1="466.50" y1="370.90" x2="474.30" y2="370.90" stroke="#e06a8a" stroke-width="1.2"/>
<rect x="469.40" y="369.90" width="2.0" height="2.0" fill="#9a0c32"/>
<line x1="466.50" y1="379.50" x2="474.30" y2="379.50" stroke="#5f8f82" stroke-width="1.2"/>
<rect x="469.40" y="378.50" width="2.0" height="2.0" fill="#123024"/>
<text x="477.70" y="373.00" font-size="7.4" fill="#333333" stroke="#333333" stroke-width="0.12" textLength="34.6" lengthAdjust="spacingAndGlyphs">Sonrotoclax</text>
<text x="477.70" y="382.00" font-size="7.4" fill="#333333" stroke="#333333" stroke-width="0.12" textLength="32.4" lengthAdjust="spacingAndGlyphs">Venetoclax</text>
<line x1="58.50" y1="500.59" x2="58.50" y2="584.10" stroke="#231f20" stroke-width="1.2"/>
<line x1="57.90" y1="583.50" x2="171.40" y2="583.50" stroke="#231f20" stroke-width="1.2"/>
<line x1="55.60" y1="583.50" x2="58.50" y2="583.50" stroke="#231f20" stroke-width="1.0"/>
<text x="52.20" y="585.80" font-size="6.4" fill="#333333" stroke="#333333" stroke-width="0.12" text-anchor="end">0</text>
<line x1="55.60" y1="556.73" x2="58.50" y2="556.73" stroke="#231f20" stroke-width="1.0"/>
<text x="52.20" y="559.03" font-size="6.4" fill="#333333" stroke="#333333" stroke-width="0.12" text-anchor="end">1000</text>
<line x1="55.60" y1="529.96" x2="58.50" y2="529.96" stroke="#231f20" stroke-width="1.0"/>
<text x="52.20" y="532.26" font-size="6.4" fill="#333333" stroke="#333333" stroke-width="0.12" text-anchor="end">2000</text>
<line x1="55.60" y1="503.19" x2="58.50" y2="503.19" stroke="#231f20" stroke-width="1.0"/>
<text x="52.20" y="505.49" font-size="6.4" fill="#333333" stroke="#333333" stroke-width="0.12" text-anchor="end">3000</text>
<line x1="58.50" y1="583.50" x2="58.50" y2="586.30" stroke="#231f20" stroke-width="0.8"/>
<text x="58.50" y="594.50" font-size="6.6" fill="#333333" stroke="#333333" stroke-width="0.12" text-anchor="middle">0</text>
<line x1="103.80" y1="583.50" x2="103.80" y2="586.30" stroke="#231f20" stroke-width="0.8"/>
<text x="103.80" y="594.50" font-size="6.6" fill="#333333" stroke="#333333" stroke-width="0.12" text-anchor="middle">20</text>
<line x1="149.10" y1="583.50" x2="149.10" y2="586.30" stroke="#231f20" stroke-width="0.8"/>
<text x="149.10" y="594.50" font-size="6.6" fill="#333333" stroke="#333333" stroke-width="0.12" text-anchor="middle">40</text>
<text x="115.95" y="606.20" font-size="8.4" fill="#333333" stroke="#333333" stroke-width="0.12" text-anchor="middle" textLength="62" lengthAdjust="spacingAndGlyphs">Days after treatment</text>
<text x="115.00" y="495.30" font-size="8.6" fill="#333333" stroke="#333333" stroke-width="0.12" text-anchor="middle" textLength="27.5" lengthAdjust="spacingAndGlyphs">RS4;11</text>
<text x="29.50" y="541.00" font-size="9.0" fill="#333333" stroke="#333333" stroke-width="0.12" text-anchor="middle" textLength="67" lengthAdjust="spacingAndGlyphs" transform="rotate(-90 29.50 541.00)">Tumor volume (mm<tspan font-size="4.6" dy="-2.6">3</tspan><tspan dy="2.6">)</tspan></text>
<path d="M58.40,575.80 L67.30,577.70 L74.20,578.90 L83.20,579.60 L90.10,579.40 L100.00,579.70 L106.00,580.00 L115.10,579.30 L121.80,578.60 L131.00,577.70 L138.00,577.10 L146.80,574.30 L153.80,569.90 L162.60,561.30" stroke="#c8102e" stroke-width="0.9" fill="none" stroke-linejoin="round"/>
<rect x="56.84" y="574.24" width="3.125" height="3.125" fill="#c8102e"/>
<rect x="65.74" y="576.14" width="3.125" height="3.125" fill="#c8102e"/>
<rect x="72.64" y="577.34" width="3.125" height="3.125" fill="#c8102e"/>
<rect x="81.64" y="578.04" width="3.125" height="3.125" fill="#c8102e"/>
<rect x="88.54" y="577.84" width="3.125" height="3.125" fill="#c8102e"/>
<rect x="98.44" y="578.14" width="3.125" height="3.125" fill="#c8102e"/>
<rect x="104.44" y="578.44" width="3.125" height="3.125" fill="#c8102e"/>
<rect x="113.54" y="577.74" width="3.125" height="3.125" fill="#c8102e"/>
<rect x="120.24" y="577.04" width="3.125" height="3.125" fill="#c8102e"/>
<rect x="129.44" y="576.14" width="3.125" height="3.125" fill="#c8102e"/>
<rect x="136.44" y="575.54" width="3.125" height="3.125" fill="#c8102e"/>
<rect x="145.24" y="572.74" width="3.125" height="3.125" fill="#c8102e"/>
<rect x="152.24" y="568.34" width="3.125" height="3.125" fill="#c8102e"/>
<rect x="161.04" y="559.74" width="3.125" height="3.125" fill="#c8102e"/>
<line x1="162.60" y1="558.00" x2="162.60" y2="564.50" stroke="#c8102e" stroke-width="0.6"/>
<line x1="161.40" y1="558.00" x2="163.80" y2="558.00" stroke="#c8102e" stroke-width="0.6"/>
<line x1="161.40" y1="564.50" x2="163.80" y2="564.50" stroke="#c8102e" stroke-width="0.6"/>
<path d="M58.40,575.80 L67.30,577.70 L74.20,578.50 L83.20,579.00 L90.10,579.00 L99.20,577.70 L105.40,575.30 L115.10,570.70 L121.80,565.60 L131.20,551.40" stroke="#1c3f73" stroke-width="0.9" fill="none" stroke-linejoin="round"/>
<path d="M58.40,573.84 L60.27,577.10 L56.52,577.10 Z" fill="#1c3f73"/>
<path d="M67.30,575.74 L69.17,579.00 L65.42,579.00 Z" fill="#1c3f73"/>
<path d="M74.20,576.54 L76.08,579.80 L72.33,579.80 Z" fill="#1c3f73"/>
<path d="M83.20,577.04 L85.08,580.30 L81.33,580.30 Z" fill="#1c3f73"/>
<path d="M90.10,577.04 L91.97,580.30 L88.22,580.30 Z" fill="#1c3f73"/>
<path d="M99.20,575.74 L101.08,579.00 L97.33,579.00 Z" fill="#1c3f73"/>
<path d="M105.40,573.34 L107.28,576.60 L103.53,576.60 Z" fill="#1c3f73"/>
<path d="M115.10,568.74 L116.97,572.00 L113.22,572.00 Z" fill="#1c3f73"/>
<path d="M121.80,563.64 L123.67,566.90 L119.92,566.90 Z" fill="#1c3f73"/>
<path d="M131.20,549.44 L133.07,552.70 L129.32,552.70 Z" fill="#1c3f73"/>
<line x1="131.20" y1="546.70" x2="131.20" y2="554.00" stroke="#1c3f73" stroke-width="0.6"/>
<line x1="130.00" y1="546.70" x2="132.40" y2="546.70" stroke="#1c3f73" stroke-width="0.6"/>
<line x1="130.00" y1="554.00" x2="132.40" y2="554.00" stroke="#1c3f73" stroke-width="0.6"/>
<path d="M58.40,575.80 L67.30,577.70 L74.20,578.50 L83.20,576.90 L90.10,575.40 L99.20,571.80 L105.80,566.90 L115.00,560.00 L121.90,549.20 L130.70,530.30" stroke="#e8927c" stroke-width="0.9" fill="none" stroke-linejoin="round"/>
<rect x="56.84" y="574.24" width="3.125" height="3.125" fill="#e8927c"/>
<rect x="65.74" y="576.14" width="3.125" height="3.125" fill="#e8927c"/>
<rect x="72.64" y="576.94" width="3.125" height="3.125" fill="#e8927c"/>
<rect x="81.64" y="575.34" width="3.125" height="3.125" fill="#e8927c"/>
<rect x="88.54" y="573.84" width="3.125" height="3.125" fill="#e8927c"/>
<rect x="97.64" y="570.24" width="3.125" height="3.125" fill="#e8927c"/>
<rect x="104.24" y="565.34" width="3.125" height="3.125" fill="#e8927c"/>
<rect x="113.44" y="558.44" width="3.125" height="3.125" fill="#e8927c"/>
<rect x="120.34" y="547.64" width="3.125" height="3.125" fill="#e8927c"/>
<rect x="129.14" y="528.74" width="3.125" height="3.125" fill="#e8927c"/>
<line x1="130.70" y1="522.50" x2="130.70" y2="538.50" stroke="#e8927c" stroke-width="0.6"/>
<line x1="129.50" y1="522.50" x2="131.90" y2="522.50" stroke="#e8927c" stroke-width="0.6"/>
<line x1="129.50" y1="538.50" x2="131.90" y2="538.50" stroke="#e8927c" stroke-width="0.6"/>
<line x1="121.90" y1="545.50" x2="121.90" y2="553.00" stroke="#e8927c" stroke-width="0.6"/>
<line x1="120.70" y1="545.50" x2="123.10" y2="545.50" stroke="#e8927c" stroke-width="0.6"/>
<line x1="120.70" y1="553.00" x2="123.10" y2="553.00" stroke="#e8927c" stroke-width="0.6"/>
<line x1="115.00" y1="557.00" x2="115.00" y2="563.50" stroke="#e8927c" stroke-width="0.6"/>
<line x1="113.80" y1="557.00" x2="116.20" y2="557.00" stroke="#e8927c" stroke-width="0.6"/>
<line x1="113.80" y1="563.50" x2="116.20" y2="563.50" stroke="#e8927c" stroke-width="0.6"/>
<path d="M58.40,575.80 L67.30,575.40 L74.20,572.30 L83.20,566.50 L90.10,560.50" stroke="#9aa3cc" stroke-width="0.9" fill="none" stroke-linejoin="round"/>
<path d="M58.40,573.84 L60.27,577.10 L56.52,577.10 Z" fill="#9aa3cc"/>
<path d="M67.30,573.44 L69.17,576.70 L65.42,576.70 Z" fill="#9aa3cc"/>
<path d="M74.20,570.34 L76.08,573.60 L72.33,573.60 Z" fill="#9aa3cc"/>
<path d="M83.20,564.54 L85.08,567.80 L81.33,567.80 Z" fill="#9aa3cc"/>
<path d="M90.10,558.54 L91.97,561.80 L88.22,561.80 Z" fill="#9aa3cc"/>
<line x1="90.10" y1="557.00" x2="90.10" y2="562.00" stroke="#9aa3cc" stroke-width="0.6"/>
<line x1="88.90" y1="557.00" x2="91.30" y2="557.00" stroke="#9aa3cc" stroke-width="0.6"/>
<line x1="88.90" y1="562.00" x2="91.30" y2="562.00" stroke="#9aa3cc" stroke-width="0.6"/>
<path d="M58.40,575.80 L67.30,570.30 L74.20,562.80 L83.20,544.60 L90.10,524.30" stroke="#3aa23a" stroke-width="0.9" fill="none" stroke-linejoin="round"/>
<circle cx="58.40" cy="575.80" r="1.5625" fill="#3aa23a"/>
<circle cx="67.30" cy="570.30" r="1.5625" fill="#3aa23a"/>
<circle cx="74.20" cy="562.80" r="1.5625" fill="#3aa23a"/>
<circle cx="83.20" cy="544.60" r="1.5625" fill="#3aa23a"/>
<circle cx="90.10" cy="524.30" r="1.5625" fill="#3aa23a"/>
<line x1="90.10" y1="517.00" x2="90.10" y2="530.80" stroke="#3aa23a" stroke-width="0.6"/>
<line x1="88.90" y1="517.00" x2="91.30" y2="517.00" stroke="#3aa23a" stroke-width="0.6"/>
<line x1="88.90" y1="530.80" x2="91.30" y2="530.80" stroke="#3aa23a" stroke-width="0.6"/>
<line x1="83.20" y1="540.50" x2="83.20" y2="548.50" stroke="#3aa23a" stroke-width="0.6"/>
<line x1="82.00" y1="540.50" x2="84.40" y2="540.50" stroke="#3aa23a" stroke-width="0.6"/>
<line x1="82.00" y1="548.50" x2="84.40" y2="548.50" stroke="#3aa23a" stroke-width="0.6"/>
<line x1="74.20" y1="560.30" x2="74.20" y2="565.00" stroke="#3aa23a" stroke-width="0.6"/>
<line x1="73.00" y1="560.30" x2="75.40" y2="560.30" stroke="#3aa23a" stroke-width="0.6"/>
<line x1="73.00" y1="565.00" x2="75.40" y2="565.00" stroke="#3aa23a" stroke-width="0.6"/>
<line x1="228.50" y1="499.00" x2="228.50" y2="584.60" stroke="#231f20" stroke-width="1.2"/>
<line x1="227.90" y1="584.00" x2="342.20" y2="584.00" stroke="#231f20" stroke-width="1.2"/>
<line x1="225.60" y1="584.00" x2="228.50" y2="584.00" stroke="#231f20" stroke-width="1.0"/>
<text x="222.20" y="586.30" font-size="6.4" fill="#333333" stroke="#333333" stroke-width="0.12" text-anchor="end">0</text>
<line x1="225.60" y1="542.80" x2="228.50" y2="542.80" stroke="#231f20" stroke-width="1.0"/>
<text x="222.20" y="545.10" font-size="6.4" fill="#333333" stroke="#333333" stroke-width="0.12" text-anchor="end">1000</text>
<line x1="225.60" y1="501.60" x2="228.50" y2="501.60" stroke="#231f20" stroke-width="1.0"/>
<text x="222.20" y="503.90" font-size="6.4" fill="#333333" stroke="#333333" stroke-width="0.12" text-anchor="end">2000</text>
<line x1="228.50" y1="584.00" x2="228.50" y2="586.80" stroke="#231f20" stroke-width="0.8"/>
<text x="228.50" y="595.00" font-size="6.6" fill="#333333" stroke="#333333" stroke-width="0.12" text-anchor="middle">0</text>
<line x1="265.60" y1="584.00" x2="265.60" y2="586.80" stroke="#231f20" stroke-width="0.8"/>
<text x="265.60" y="595.00" font-size="6.6" fill="#333333" stroke="#333333" stroke-width="0.12" text-anchor="middle">5</text>
<line x1="302.70" y1="584.00" x2="302.70" y2="586.80" stroke="#231f20" stroke-width="0.8"/>
<text x="302.70" y="595.00" font-size="6.6" fill="#333333" stroke="#333333" stroke-width="0.12" text-anchor="middle">10</text>
<line x1="339.80" y1="584.00" x2="339.80" y2="586.80" stroke="#231f20" stroke-width="0.8"/>
<text x="339.80" y="595.00" font-size="6.6" fill="#333333" stroke="#333333" stroke-width="0.12" text-anchor="middle">15</text>
<text x="286.35" y="606.70" font-size="8.4" fill="#333333" stroke="#333333" stroke-width="0.12" text-anchor="middle" textLength="62" lengthAdjust="spacingAndGlyphs">Days after treatment</text>
<text x="285.20" y="495.30" font-size="8.6" fill="#333333" stroke="#333333" stroke-width="0.12" text-anchor="middle" textLength="37" lengthAdjust="spacingAndGlyphs">MAVER-1</text>
<text x="199.50" y="541.00" font-size="9.0" fill="#333333" stroke="#333333" stroke-width="0.12" text-anchor="middle" textLength="67" lengthAdjust="spacingAndGlyphs" transform="rotate(-90 199.50 541.00)">Tumor volume (mm<tspan font-size="4.6" dy="-2.6">3</tspan><tspan dy="2.6">)</tspan></text>
<path d="M228.25,576.75 L250.50,577.50 L280.00,578.25 L302.50,578.25 L332.50,578.25" stroke="#c8102e" stroke-width="0.9" fill="none" stroke-linejoin="round"/>
<rect x="226.69" y="575.19" width="3.125" height="3.125" fill="#c8102e"/>
<rect x="248.94" y="575.94" width="3.125" height="3.125" fill="#c8102e"/>
<rect x="278.44" y="576.69" width="3.125" height="3.125" fill="#c8102e"/>
<rect x="300.94" y="576.69" width="3.125" height="3.125" fill="#c8102e"/>
<rect x="330.94" y="576.69" width="3.125" height="3.125" fill="#c8102e"/>
<path d="M228.25,576.75 L250.50,577.50 L280.00,575.75 L302.50,574.50 L332.50,571.25" stroke="#1c3f73" stroke-width="0.9" fill="none" stroke-linejoin="round"/>
<path d="M228.25,574.79 L230.12,578.05 L226.38,578.05 Z" fill="#1c3f73"/>
<path d="M250.50,575.54 L252.38,578.80 L248.62,578.80 Z" fill="#1c3f73"/>
<path d="M280.00,573.79 L281.88,577.05 L278.12,577.05 Z" fill="#1c3f73"/>
<path d="M302.50,572.54 L304.38,575.80 L300.62,575.80 Z" fill="#1c3f73"/>
<path d="M332.50,569.29 L334.38,572.55 L330.62,572.55 Z" fill="#1c3f73"/>
<path d="M228.25,576.75 L250.50,577.50 L280.00,575.50 L302.50,573.25 L332.50,568.00" stroke="#e8927c" stroke-width="0.9" fill="none" stroke-linejoin="round"/>
<rect x="226.69" y="575.19" width="3.125" height="3.125" fill="#e8927c"/>
<rect x="248.94" y="575.94" width="3.125" height="3.125" fill="#e8927c"/>
<rect x="278.44" y="573.94" width="3.125" height="3.125" fill="#e8927c"/>
<rect x="300.94" y="571.69" width="3.125" height="3.125" fill="#e8927c"/>
<rect x="330.94" y="566.44" width="3.125" height="3.125" fill="#e8927c"/>
<path d="M228.25,576.75 L250.50,575.00 L280.00,571.25 L302.50,562.50 L332.50,540.00" stroke="#9aa3cc" stroke-width="0.9" fill="none" stroke-linejoin="round"/>
<path d="M228.25,574.79 L230.12,578.05 L226.38,578.05 Z" fill="#9aa3cc"/>
<path d="M250.50,573.04 L252.38,576.30 L248.62,576.30 Z" fill="#9aa3cc"/>
<path d="M280.00,569.29 L281.88,572.55 L278.12,572.55 Z" fill="#9aa3cc"/>
<path d="M302.50,560.54 L304.38,563.80 L300.62,563.80 Z" fill="#9aa3cc"/>
<path d="M332.50,538.04 L334.38,541.30 L330.62,541.30 Z" fill="#9aa3cc"/>
<line x1="332.50" y1="535.00" x2="332.50" y2="544.50" stroke="#9aa3cc" stroke-width="0.6"/>
<line x1="331.30" y1="535.00" x2="333.70" y2="535.00" stroke="#9aa3cc" stroke-width="0.6"/>
<line x1="331.30" y1="544.50" x2="333.70" y2="544.50" stroke="#9aa3cc" stroke-width="0.6"/>
<path d="M228.25,576.75 L250.50,574.25 L280.00,567.00 L302.50,553.75 L332.50,517.00" stroke="#3aa23a" stroke-width="0.9" fill="none" stroke-linejoin="round"/>
<circle cx="228.25" cy="576.75" r="1.5625" fill="#3aa23a"/>
<circle cx="250.50" cy="574.25" r="1.5625" fill="#3aa23a"/>
<circle cx="280.00" cy="567.00" r="1.5625" fill="#3aa23a"/>
<circle cx="302.50" cy="553.75" r="1.5625" fill="#3aa23a"/>
<circle cx="332.50" cy="517.00" r="1.5625" fill="#3aa23a"/>
<line x1="332.50" y1="511.00" x2="332.50" y2="523.00" stroke="#3aa23a" stroke-width="0.6"/>
<line x1="331.30" y1="511.00" x2="333.70" y2="511.00" stroke="#3aa23a" stroke-width="0.6"/>
<line x1="331.30" y1="523.00" x2="333.70" y2="523.00" stroke="#3aa23a" stroke-width="0.6"/>
<line x1="302.50" y1="551.00" x2="302.50" y2="556.50" stroke="#3aa23a" stroke-width="0.6"/>
<line x1="301.30" y1="551.00" x2="303.70" y2="551.00" stroke="#3aa23a" stroke-width="0.6"/>
<line x1="301.30" y1="556.50" x2="303.70" y2="556.50" stroke="#3aa23a" stroke-width="0.6"/>
<line x1="397.90" y1="499.00" x2="397.90" y2="584.20" stroke="#231f20" stroke-width="1.2"/>
<line x1="397.30" y1="583.60" x2="513.40" y2="583.60" stroke="#231f20" stroke-width="1.2"/>
<line x1="395.00" y1="583.60" x2="397.90" y2="583.60" stroke="#231f20" stroke-width="1.0"/>
<text x="391.60" y="585.90" font-size="6.4" fill="#333333" stroke="#333333" stroke-width="0.12" text-anchor="end">0</text>
<line x1="395.00" y1="542.60" x2="397.90" y2="542.60" stroke="#231f20" stroke-width="1.0"/>
<text x="391.60" y="544.90" font-size="6.4" fill="#333333" stroke="#333333" stroke-width="0.12" text-anchor="end">1000</text>
<line x1="395.00" y1="501.60" x2="397.90" y2="501.60" stroke="#231f20" stroke-width="1.0"/>
<text x="391.60" y="503.90" font-size="6.4" fill="#333333" stroke="#333333" stroke-width="0.12" text-anchor="end">2000</text>
<line x1="397.90" y1="583.60" x2="397.90" y2="586.40" stroke="#231f20" stroke-width="0.8"/>
<text x="397.90" y="594.60" font-size="6.6" fill="#333333" stroke="#333333" stroke-width="0.12" text-anchor="middle">0</text>
<line x1="430.90" y1="583.60" x2="430.90" y2="586.40" stroke="#231f20" stroke-width="0.8"/>
<text x="430.90" y="594.60" font-size="6.6" fill="#333333" stroke="#333333" stroke-width="0.12" text-anchor="middle">10</text>
<line x1="463.90" y1="583.60" x2="463.90" y2="586.40" stroke="#231f20" stroke-width="0.8"/>
<text x="463.90" y="594.60" font-size="6.6" fill="#333333" stroke="#333333" stroke-width="0.12" text-anchor="middle">20</text>
<line x1="496.90" y1="583.60" x2="496.90" y2="586.40" stroke="#231f20" stroke-width="0.8"/>
<text x="496.90" y="594.60" font-size="6.6" fill="#333333" stroke="#333333" stroke-width="0.12" text-anchor="middle">30</text>
<text x="456.65" y="606.30" font-size="8.4" fill="#333333" stroke="#333333" stroke-width="0.12" text-anchor="middle" textLength="62" lengthAdjust="spacingAndGlyphs">Days after treatment</text>
<text x="456.00" y="495.30" font-size="8.6" fill="#333333" stroke="#333333" stroke-width="0.12" text-anchor="middle" textLength="28" lengthAdjust="spacingAndGlyphs">Toledo</text>
<text x="369.50" y="541.00" font-size="9.0" fill="#333333" stroke="#333333" stroke-width="0.12" text-anchor="middle" textLength="67" lengthAdjust="spacingAndGlyphs" transform="rotate(-90 369.50 541.00)">Tumor volume (mm<tspan font-size="4.6" dy="-2.6">3</tspan><tspan dy="2.6">)</tspan></text>
<path d="M397.50,583.75 L430.70,576.20 L444.20,576.20 L453.70,576.20 L466.70,576.20 L476.70,575.20 L490.10,575.20 L499.90,573.00" stroke="#4a2f7f" stroke-width="0.9" fill="none" stroke-linejoin="round"/>
<path d="M397.50,581.79 L399.38,585.05 L395.62,585.05 Z" fill="#4a2f7f"/>
<path d="M430.70,574.24 L432.57,577.50 L428.82,577.50 Z" fill="#4a2f7f"/>
<path d="M444.20,574.24 L446.07,577.50 L442.32,577.50 Z" fill="#4a2f7f"/>
<path d="M453.70,574.24 L455.57,577.50 L451.82,577.50 Z" fill="#4a2f7f"/>
<path d="M466.70,574.24 L468.57,577.50 L464.82,577.50 Z" fill="#4a2f7f"/>
<path d="M476.70,573.24 L478.57,576.50 L474.82,576.50 Z" fill="#4a2f7f"/>
<path d="M490.10,573.24 L491.98,576.50 L488.23,576.50 Z" fill="#4a2f7f"/>
<path d="M499.90,571.04 L501.77,574.30 L498.02,574.30 Z" fill="#4a2f7f"/>
<path d="M397.50,583.75 L430.70,576.00 L444.20,576.00 L453.70,576.00 L466.70,576.00 L476.70,575.00 L490.10,575.00 L499.90,572.80" stroke="#c8102e" stroke-width="0.9" fill="none" stroke-linejoin="round"/>
<rect x="395.94" y="582.19" width="3.125" height="3.125" fill="#c8102e"/>
<rect x="429.14" y="574.44" width="3.125" height="3.125" fill="#c8102e"/>
<rect x="442.64" y="574.44" width="3.125" height="3.125" fill="#c8102e"/>
<rect x="452.14" y="574.44" width="3.125" height="3.125" fill="#c8102e"/>
<rect x="465.14" y="574.44" width="3.125" height="3.125" fill="#c8102e"/>
<rect x="475.14" y="573.44" width="3.125" height="3.125" fill="#c8102e"/>
<rect x="488.54" y="573.44" width="3.125" height="3.125" fill="#c8102e"/>
<rect x="498.34" y="571.24" width="3.125" height="3.125" fill="#c8102e"/>
<line x1="499.90" y1="570.50" x2="499.90" y2="575.00" stroke="#c8102e" stroke-width="0.6"/>
<line x1="498.70" y1="570.50" x2="501.10" y2="570.50" stroke="#c8102e" stroke-width="0.6"/>
<line x1="498.70" y1="575.00" x2="501.10" y2="575.00" stroke="#c8102e" stroke-width="0.6"/>
<path d="M397.50,583.75 L430.70,576.00 L444.20,576.00 L453.70,575.00 L466.70,574.20 L476.70,569.90 L490.10,565.20 L499.90,549.60" stroke="#1c3f73" stroke-width="0.9" fill="none" stroke-linejoin="round"/>
<path d="M397.50,581.79 L399.38,585.05 L395.62,585.05 Z" fill="#1c3f73"/>
<path d="M430.70,574.04 L432.57,577.30 L428.82,577.30 Z" fill="#1c3f73"/>
<path d="M444.20,574.04 L446.07,577.30 L442.32,577.30 Z" fill="#1c3f73"/>
<path d="M453.70,573.04 L455.57,576.30 L451.82,576.30 Z" fill="#1c3f73"/>
<path d="M466.70,572.24 L468.57,575.50 L464.82,575.50 Z" fill="#1c3f73"/>
<path d="M476.70,567.94 L478.57,571.20 L474.82,571.20 Z" fill="#1c3f73"/>
<path d="M490.10,563.24 L491.98,566.50 L488.23,566.50 Z" fill="#1c3f73"/>
<path d="M499.90,547.64 L501.77,550.90 L498.02,550.90 Z" fill="#1c3f73"/>
<line x1="499.90" y1="544.40" x2="499.90" y2="555.20" stroke="#1c3f73" stroke-width="0.6"/>
<line x1="498.70" y1="544.40" x2="501.10" y2="544.40" stroke="#1c3f73" stroke-width="0.6"/>
<line x1="498.70" y1="555.20" x2="501.10" y2="555.20" stroke="#1c3f73" stroke-width="0.6"/>
<path d="M397.50,583.75 L430.70,574.60 L444.20,576.00 L453.70,575.00 L466.70,573.90 L476.70,570.40 L490.10,563.00 L499.90,556.60" stroke="#e8927c" stroke-width="0.9" fill="none" stroke-linejoin="round"/>
<rect x="395.94" y="582.19" width="3.125" height="3.125" fill="#e8927c"/>
<rect x="429.14" y="573.04" width="3.125" height="3.125" fill="#e8927c"/>
<rect x="442.64" y="574.44" width="3.125" height="3.125" fill="#e8927c"/>
<rect x="452.14" y="573.44" width="3.125" height="3.125" fill="#e8927c"/>
<rect x="465.14" y="572.34" width="3.125" height="3.125" fill="#e8927c"/>
<rect x="475.14" y="568.84" width="3.125" height="3.125" fill="#e8927c"/>
<rect x="488.54" y="561.44" width="3.125" height="3.125" fill="#e8927c"/>
<rect x="498.34" y="555.04" width="3.125" height="3.125" fill="#e8927c"/>
<line x1="499.90" y1="554.30" x2="499.90" y2="558.60" stroke="#e8927c" stroke-width="0.6"/>
<line x1="498.70" y1="554.30" x2="501.10" y2="554.30" stroke="#e8927c" stroke-width="0.6"/>
<line x1="498.70" y1="558.60" x2="501.10" y2="558.60" stroke="#e8927c" stroke-width="0.6"/>
<path d="M397.50,583.75 L430.70,575.00 L444.20,573.30 L453.70,573.00 L466.70,569.00 L476.70,561.20 L490.10,542.20 L499.90,513.70" stroke="#3aa23a" stroke-width="0.9" fill="none" stroke-linejoin="round"/>
<circle cx="397.50" cy="583.75" r="1.5625" fill="#3aa23a"/>
<circle cx="430.70" cy="575.00" r="1.5625" fill="#3aa23a"/>
<circle cx="444.20" cy="573.30" r="1.5625" fill="#3aa23a"/>
<circle cx="453.70" cy="573.00" r="1.5625" fill="#3aa23a"/>
<circle cx="466.70" cy="569.00" r="1.5625" fill="#3aa23a"/>
<circle cx="476.70" cy="561.20" r="1.5625" fill="#3aa23a"/>
<circle cx="490.10" cy="542.20" r="1.5625" fill="#3aa23a"/>
<circle cx="499.90" cy="513.70" r="1.5625" fill="#3aa23a"/>
<line x1="499.90" y1="506.70" x2="499.90" y2="521.40" stroke="#3aa23a" stroke-width="0.6"/>
<line x1="498.70" y1="506.70" x2="501.10" y2="506.70" stroke="#3aa23a" stroke-width="0.6"/>
<line x1="498.70" y1="521.40" x2="501.10" y2="521.40" stroke="#3aa23a" stroke-width="0.6"/>
<line x1="490.10" y1="537.50" x2="490.10" y2="547.40" stroke="#3aa23a" stroke-width="0.6"/>
<line x1="488.90" y1="537.50" x2="491.30" y2="537.50" stroke="#3aa23a" stroke-width="0.6"/>
<line x1="488.90" y1="547.40" x2="491.30" y2="547.40" stroke="#3aa23a" stroke-width="0.6"/>
<line x1="58.10" y1="628.00" x2="66.70" y2="628.00" stroke="#3aa23a" stroke-width="0.9"/>
<circle cx="62.40" cy="628.00" r="1.4375" fill="#3aa23a"/>
<text x="69.90" y="630.50" font-size="7.4" fill="#333333" stroke="#333333" stroke-width="0.12" textLength="21.3" lengthAdjust="spacingAndGlyphs">Vehicle</text>
<line x1="58.10" y1="637.60" x2="66.70" y2="637.60" stroke="#e8927c" stroke-width="0.9"/>
<rect x="60.96" y="636.16" width="2.875" height="2.875" fill="#e8927c"/>
<text x="69.90" y="640.10" font-size="7.4" fill="#333333" stroke="#333333" stroke-width="0.12" textLength="54.2" lengthAdjust="spacingAndGlyphs">Sonrotoclax 5 mpk</text>
<line x1="58.10" y1="647.30" x2="66.70" y2="647.30" stroke="#c8102e" stroke-width="0.9"/>
<rect x="60.96" y="645.86" width="2.875" height="2.875" fill="#c8102e"/>
<text x="69.90" y="649.80" font-size="7.4" fill="#333333" stroke="#333333" stroke-width="0.12" textLength="58.3" lengthAdjust="spacingAndGlyphs">Sonrotoclax 15 mpk</text>
<line x1="58.10" y1="656.20" x2="66.70" y2="656.20" stroke="#9aa3cc" stroke-width="0.9"/>
<path d="M62.40,654.40 L64.12,657.40 L60.68,657.40 Z" fill="#9aa3cc"/>
<text x="69.90" y="658.70" font-size="7.4" fill="#333333" stroke="#333333" stroke-width="0.12" textLength="52.3" lengthAdjust="spacingAndGlyphs">Venetoclax 5 mpk</text>
<line x1="58.10" y1="665.80" x2="66.70" y2="665.80" stroke="#1c3f73" stroke-width="0.9"/>
<path d="M62.40,664.00 L64.12,667.00 L60.68,667.00 Z" fill="#1c3f73"/>
<text x="69.90" y="668.30" font-size="7.4" fill="#333333" stroke="#333333" stroke-width="0.12" textLength="55.9" lengthAdjust="spacingAndGlyphs">Venetoclax 15 mpk</text>
<text x="129.60" y="617.90" font-size="6.6" fill="#333333" stroke="#333333" stroke-width="0.12" textLength="21.2" lengthAdjust="spacingAndGlyphs">TGI (%)</text>
<text x="129.10" y="625.60" font-size="6.8" fill="#333333" stroke="#333333" stroke-width="0.12" textLength="29.8" lengthAdjust="spacingAndGlyphs">on Day 14</text>
<text x="138.40" y="640.10" font-size="7.4" fill="#e8927c" stroke="#e8927c" stroke-width="0.12" text-anchor="middle" textLength="7.3" lengthAdjust="spacingAndGlyphs">98</text>
<text x="138.40" y="649.80" font-size="7.4" fill="#c8102e" stroke="#c8102e" stroke-width="0.12" text-anchor="middle" textLength="10.8" lengthAdjust="spacingAndGlyphs">106</text>
<text x="138.40" y="658.70" font-size="7.4" fill="#9aa3cc" stroke="#9aa3cc" stroke-width="0.12" text-anchor="middle" textLength="7.3" lengthAdjust="spacingAndGlyphs">67</text>
<text x="138.40" y="668.30" font-size="7.4" fill="#1c3f73" stroke="#1c3f73" stroke-width="0.12" text-anchor="middle" textLength="10.8" lengthAdjust="spacingAndGlyphs">104</text>
<path d="M147.70,636.40 L150.00,636.40 L150.00,656.50 L147.70,656.50" stroke="#333" stroke-width="0.8" fill="none"/>
<circle cx="154.50" cy="642.20" r="0.95" fill="#222"/>
<circle cx="154.50" cy="645.07" r="0.95" fill="#222"/>
<circle cx="154.50" cy="647.93" r="0.95" fill="#222"/>
<circle cx="154.50" cy="650.80" r="0.95" fill="#222"/>
<line x1="228.60" y1="628.00" x2="237.20" y2="628.00" stroke="#3aa23a" stroke-width="0.9"/>
<circle cx="232.90" cy="628.00" r="1.4375" fill="#3aa23a"/>
<text x="240.40" y="630.50" font-size="7.4" fill="#333333" stroke="#333333" stroke-width="0.12" textLength="21.3" lengthAdjust="spacingAndGlyphs">Vehicle</text>
<line x1="228.60" y1="637.60" x2="237.20" y2="637.60" stroke="#e8927c" stroke-width="0.9"/>
<rect x="231.46" y="636.16" width="2.875" height="2.875" fill="#e8927c"/>
<text x="240.40" y="640.10" font-size="7.4" fill="#333333" stroke="#333333" stroke-width="0.12" textLength="54.2" lengthAdjust="spacingAndGlyphs">Sonrotoclax 5 mpk</text>
<line x1="228.60" y1="647.30" x2="237.20" y2="647.30" stroke="#c8102e" stroke-width="0.9"/>
<rect x="231.46" y="645.86" width="2.875" height="2.875" fill="#c8102e"/>
<text x="240.40" y="649.80" font-size="7.4" fill="#333333" stroke="#333333" stroke-width="0.12" textLength="58.3" lengthAdjust="spacingAndGlyphs">Sonrotoclax 15 mpk</text>
<line x1="228.60" y1="656.20" x2="237.20" y2="656.20" stroke="#9aa3cc" stroke-width="0.9"/>
<path d="M232.90,654.40 L234.62,657.40 L231.17,657.40 Z" fill="#9aa3cc"/>
<text x="240.40" y="658.70" font-size="7.4" fill="#333333" stroke="#333333" stroke-width="0.12" textLength="52.3" lengthAdjust="spacingAndGlyphs">Venetoclax 5 mpk</text>
<line x1="228.60" y1="665.80" x2="237.20" y2="665.80" stroke="#1c3f73" stroke-width="0.9"/>
<path d="M232.90,664.00 L234.62,667.00 L231.17,667.00 Z" fill="#1c3f73"/>
<text x="240.40" y="668.30" font-size="7.4" fill="#333333" stroke="#333333" stroke-width="0.12" textLength="55.9" lengthAdjust="spacingAndGlyphs">Venetoclax 15 mpk</text>
<text x="299.80" y="617.90" font-size="6.6" fill="#333333" stroke="#333333" stroke-width="0.12" textLength="21.2" lengthAdjust="spacingAndGlyphs">TGI (%)</text>
<text x="299.30" y="625.60" font-size="6.8" fill="#333333" stroke="#333333" stroke-width="0.12" textLength="29.8" lengthAdjust="spacingAndGlyphs">on Day 14</text>
<text x="308.80" y="640.10" font-size="7.4" fill="#e8927c" stroke="#e8927c" stroke-width="0.12" text-anchor="middle" textLength="7.3" lengthAdjust="spacingAndGlyphs">86</text>
<text x="308.80" y="649.80" font-size="7.4" fill="#c8102e" stroke="#c8102e" stroke-width="0.12" text-anchor="middle" textLength="10.8" lengthAdjust="spacingAndGlyphs">103</text>
<text x="308.80" y="658.70" font-size="7.4" fill="#9aa3cc" stroke="#9aa3cc" stroke-width="0.12" text-anchor="middle" textLength="7.3" lengthAdjust="spacingAndGlyphs">38</text>
<text x="308.80" y="668.30" font-size="7.4" fill="#1c3f73" stroke="#1c3f73" stroke-width="0.12" text-anchor="middle" textLength="7.3" lengthAdjust="spacingAndGlyphs">91</text>
<path d="M326.30,636.30 L328.60,636.30 L328.60,656.50 L326.30,656.50" stroke="#333" stroke-width="0.8" fill="none"/>
<circle cx="332.50" cy="641.90" r="0.95" fill="#222"/>
<circle cx="332.50" cy="644.87" r="0.95" fill="#222"/>
<circle cx="332.50" cy="647.83" r="0.95" fill="#222"/>
<circle cx="332.50" cy="650.80" r="0.95" fill="#222"/>
<path d="M316.20,645.80 L318.50,645.80 L318.50,665.80 L316.20,665.80" stroke="#333" stroke-width="0.8" fill="none"/>
<circle cx="322.30" cy="651.20" r="0.95" fill="#222"/>
<circle cx="322.30" cy="654.27" r="0.95" fill="#222"/>
<circle cx="322.30" cy="657.33" r="0.95" fill="#222"/>
<circle cx="322.30" cy="660.40" r="0.95" fill="#222"/>
<line x1="397.50" y1="628.00" x2="406.10" y2="628.00" stroke="#3aa23a" stroke-width="0.9"/>
<circle cx="401.80" cy="628.00" r="1.4375" fill="#3aa23a"/>
<text x="409.30" y="630.50" font-size="7.4" fill="#333333" stroke="#333333" stroke-width="0.12" textLength="21.3" lengthAdjust="spacingAndGlyphs">Vehicle</text>
<line x1="397.50" y1="637.60" x2="406.10" y2="637.60" stroke="#e8927c" stroke-width="0.9"/>
<rect x="400.36" y="636.16" width="2.875" height="2.875" fill="#e8927c"/>
<text x="409.30" y="640.10" font-size="7.4" fill="#333333" stroke="#333333" stroke-width="0.12" textLength="54.2" lengthAdjust="spacingAndGlyphs">Sonrotoclax 5 mpk</text>
<line x1="397.50" y1="647.30" x2="406.10" y2="647.30" stroke="#c8102e" stroke-width="0.9"/>
<rect x="400.36" y="645.86" width="2.875" height="2.875" fill="#c8102e"/>
<text x="409.30" y="649.80" font-size="7.4" fill="#333333" stroke="#333333" stroke-width="0.12" textLength="58.3" lengthAdjust="spacingAndGlyphs">Sonrotoclax 15 mpk</text>
<line x1="397.50" y1="656.20" x2="406.10" y2="656.20" stroke="#1c3f73" stroke-width="0.9"/>
<path d="M401.80,654.40 L403.53,657.40 L400.07,657.40 Z" fill="#1c3f73"/>
<text x="409.30" y="658.70" font-size="7.4" fill="#333333" stroke="#333333" stroke-width="0.12" textLength="55.9" lengthAdjust="spacingAndGlyphs">Venetoclax 15 mpk</text>
<line x1="397.50" y1="665.80" x2="406.10" y2="665.80" stroke="#4a2f7f" stroke-width="0.9"/>
<path d="M401.80,664.00 L403.53,667.00 L400.07,667.00 Z" fill="#4a2f7f"/>
<text x="409.30" y="668.30" font-size="7.4" fill="#333333" stroke="#333333" stroke-width="0.12" textLength="55.9" lengthAdjust="spacingAndGlyphs">Venetoclax 50 mpk</text>
<text x="469.60" y="617.90" font-size="6.6" fill="#333333" stroke="#333333" stroke-width="0.12" textLength="21.2" lengthAdjust="spacingAndGlyphs">TGI (%)</text>
<text x="469.10" y="625.60" font-size="6.8" fill="#333333" stroke="#333333" stroke-width="0.12" textLength="29.8" lengthAdjust="spacingAndGlyphs">on Day 31</text>
<text x="477.90" y="640.10" font-size="7.4" fill="#e8927c" stroke="#e8927c" stroke-width="0.12" text-anchor="middle" textLength="7.3" lengthAdjust="spacingAndGlyphs">60</text>
<text x="477.90" y="649.80" font-size="7.4" fill="#c8102e" stroke="#c8102e" stroke-width="0.12" text-anchor="middle" textLength="7.3" lengthAdjust="spacingAndGlyphs">84</text>
<text x="477.90" y="658.70" font-size="7.4" fill="#1c3f73" stroke="#1c3f73" stroke-width="0.12" text-anchor="middle" textLength="7.3" lengthAdjust="spacingAndGlyphs">50</text>
<text x="477.90" y="668.30" font-size="7.4" fill="#4a2f7f" stroke="#4a2f7f" stroke-width="0.12" text-anchor="middle" textLength="7.3" lengthAdjust="spacingAndGlyphs">85</text>
<path d="M485.70,646.00 L488.00,646.00 L488.00,655.80 L485.70,655.80" stroke="#333" stroke-width="0.8" fill="none"/>
<circle cx="492.20" cy="647.30" r="0.95" fill="#222"/>
<circle cx="492.20" cy="649.93" r="0.95" fill="#222"/>
<circle cx="492.20" cy="652.57" r="0.95" fill="#222"/>
<circle cx="492.20" cy="655.20" r="0.95" fill="#222"/>
</svg>
<svg width="520" height="676" viewBox="0 0 520 676">
<rect x="0" y="0" width="520" height="1" fill="#555"/>
<rect x="0" y="0" width="1" height="676" fill="#5a5a5a"/>
<rect x="518" y="0" width="1" height="676" fill="#d8d8d8"/>
<rect x="519" y="0" width="1" height="676" fill="#4a4a4a"/>
<rect x="0" y="674" width="520" height="1" fill="#aaa"/>
<rect x="0" y="675" width="520" height="1" fill="#3a3a3a"/>
</svg></div></body></html>
